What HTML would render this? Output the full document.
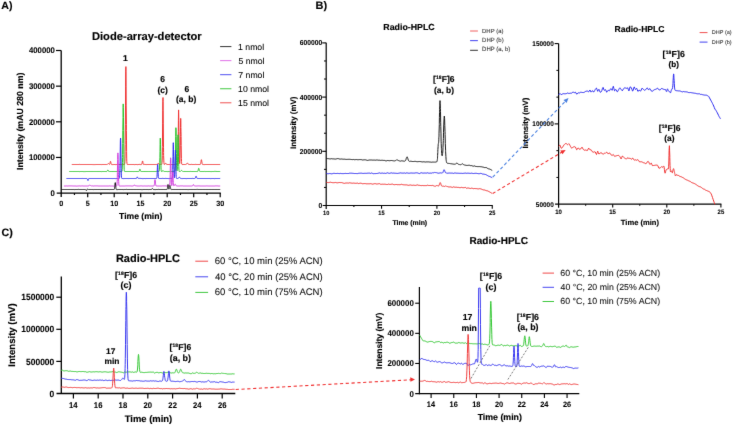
<!DOCTYPE html><html><head><meta charset="utf-8"><style>html,body{margin:0;padding:0;background:#fff;}svg{display:block;}</style></head><body>
<svg width="734" height="426" viewBox="0 0 734 426" font-family="'Liberation Sans', sans-serif" text-rendering="geometricPrecision">
<defs><filter id="bl" x="0" y="0" width="1" height="1" color-interpolation-filters="sRGB"><feConvolveMatrix order="3" kernelMatrix="0.00524 0.06192 0.00524 0.06192 0.73137 0.06192 0.00524 0.06192 0.00524" divisor="1" edgeMode="duplicate" preserveAlpha="true"/></filter></defs>
<g filter="url(#bl)">
<rect width="734" height="426" fill="#fff"/>
<text transform="translate(1.23,9.06) scale(1.0000,1)" font-size="10.612" font-weight="bold" fill="#000" stroke="#000" stroke-width="0.150">A)</text>
<text transform="translate(315.58,9.08) scale(1.0000,1)" font-size="10.957" font-weight="bold" fill="#000" stroke="#000" stroke-width="0.150">B)</text>
<text transform="translate(1.52,236.30) scale(1.0000,1)" font-size="10.722" font-weight="bold" fill="#000" stroke="#000" stroke-width="0.150">C)</text>
<text transform="translate(91.97,39.65) scale(1.0000,1)" font-size="11.159" font-weight="bold" fill="#000" stroke="#000" stroke-width="0.150">Diode-array-detector</text>
<line x1="61.20" y1="50.40" x2="61.20" y2="197.10" stroke="#000" stroke-width="1.3" />
<line x1="56.70" y1="193.10" x2="220.80" y2="193.10" stroke="#000" stroke-width="1.3" />
<line x1="56.00" y1="157.45" x2="61.20" y2="157.45" stroke="#000" stroke-width="1.2" />
<line x1="56.00" y1="121.80" x2="61.20" y2="121.80" stroke="#000" stroke-width="1.2" />
<line x1="56.00" y1="86.15" x2="61.20" y2="86.15" stroke="#000" stroke-width="1.2" />
<line x1="56.00" y1="50.50" x2="61.20" y2="50.50" stroke="#000" stroke-width="1.2" />
<text transform="translate(50.59,195.95) scale(0.9400,1)" font-size="8.266" font-weight="bold" fill="#000" stroke="#000" stroke-width="0.080">0</text>
<text transform="translate(28.99,160.30) scale(0.9400,1)" font-size="8.266" font-weight="bold" fill="#000" stroke="#000" stroke-width="0.080">100000</text>
<text transform="translate(28.99,124.65) scale(0.9400,1)" font-size="8.266" font-weight="bold" fill="#000" stroke="#000" stroke-width="0.080">200000</text>
<text transform="translate(28.99,89.00) scale(0.9400,1)" font-size="8.266" font-weight="bold" fill="#000" stroke="#000" stroke-width="0.080">300000</text>
<text transform="translate(28.99,53.35) scale(0.9400,1)" font-size="8.266" font-weight="bold" fill="#000" stroke="#000" stroke-width="0.080">400000</text>
<line x1="74.45" y1="193.10" x2="74.45" y2="195.00" stroke="#000" stroke-width="1.2" />
<line x1="87.70" y1="193.10" x2="87.70" y2="197.20" stroke="#000" stroke-width="1.2" />
<line x1="100.95" y1="193.10" x2="100.95" y2="195.00" stroke="#000" stroke-width="1.2" />
<line x1="114.20" y1="193.10" x2="114.20" y2="197.20" stroke="#000" stroke-width="1.2" />
<line x1="127.45" y1="193.10" x2="127.45" y2="195.00" stroke="#000" stroke-width="1.2" />
<line x1="140.70" y1="193.10" x2="140.70" y2="197.20" stroke="#000" stroke-width="1.2" />
<line x1="153.95" y1="193.10" x2="153.95" y2="195.00" stroke="#000" stroke-width="1.2" />
<line x1="167.20" y1="193.10" x2="167.20" y2="197.20" stroke="#000" stroke-width="1.2" />
<line x1="180.45" y1="193.10" x2="180.45" y2="195.00" stroke="#000" stroke-width="1.2" />
<line x1="193.70" y1="193.10" x2="193.70" y2="197.20" stroke="#000" stroke-width="1.2" />
<line x1="206.95" y1="193.10" x2="206.95" y2="195.00" stroke="#000" stroke-width="1.2" />
<line x1="220.20" y1="193.10" x2="220.20" y2="197.20" stroke="#000" stroke-width="1.2" />
<text transform="translate(59.23,206.18) scale(0.9400,1)" font-size="7.628" font-weight="bold" fill="#000" stroke="#000" stroke-width="0.080">0</text>
<text transform="translate(85.69,206.14) scale(0.9400,1)" font-size="7.628" font-weight="bold" fill="#000" stroke="#000" stroke-width="0.080">5</text>
<text transform="translate(110.15,206.18) scale(0.9400,1)" font-size="7.628" font-weight="bold" fill="#000" stroke="#000" stroke-width="0.080">10</text>
<text transform="translate(136.61,206.14) scale(0.9400,1)" font-size="7.628" font-weight="bold" fill="#000" stroke="#000" stroke-width="0.080">15</text>
<text transform="translate(163.26,206.18) scale(0.9400,1)" font-size="7.628" font-weight="bold" fill="#000" stroke="#000" stroke-width="0.080">20</text>
<text transform="translate(189.72,206.18) scale(0.9400,1)" font-size="7.628" font-weight="bold" fill="#000" stroke="#000" stroke-width="0.080">25</text>
<text transform="translate(216.29,206.18) scale(0.9400,1)" font-size="7.628" font-weight="bold" fill="#000" stroke="#000" stroke-width="0.080">30</text>
<text transform="translate(119.06,219.33) scale(1.0000,1)" font-size="8.594" font-weight="bold" fill="#000" stroke="#000" stroke-width="0.150">Time (min)</text>
<text transform="translate(22.98,170.06) rotate(-90) scale(1.0000,1)" font-size="8.781" font-weight="bold" fill="#000" stroke="#000" stroke-width="0.150">Intensity (mAU 280 nm)</text>
<polyline points="71.8,164.5 72.4,164.5 73.0,164.5 73.6,164.5 74.2,164.5 74.8,164.5 75.4,164.5 76.0,164.5 76.6,164.5 77.2,164.5 77.8,164.5 78.4,164.5 79.0,164.5 79.6,164.4 80.2,164.5 80.8,164.5 81.4,164.5 82.0,164.5 82.6,164.5 83.2,164.5 83.8,164.5 84.4,164.5 85.0,164.5 85.6,164.5 86.2,164.5 86.8,164.5 87.4,164.5 88.0,164.5 88.6,164.5 89.2,164.5 89.8,164.5 90.4,164.5 91.0,164.5 91.6,164.5 92.2,164.5 92.8,164.6 93.4,164.6 94.0,164.6 94.6,164.6 95.2,164.6 95.8,164.5 96.4,164.5 97.0,164.5 97.6,164.5 98.2,164.5 98.8,164.5 99.4,164.5 100.0,164.5 100.6,164.5 101.2,164.5 101.8,164.6 102.4,164.5 103.0,164.5 103.6,164.5 104.2,164.5 104.8,164.5 105.4,164.5 106.0,164.5 106.2,164.5 106.4,164.5 106.6,164.5 106.6,164.5 106.8,164.5 107.0,164.5 107.1,164.5 107.2,164.4 107.3,164.4 107.5,164.3 107.7,164.1 107.8,163.9 107.8,163.9 108.0,163.7 108.2,163.5 108.4,163.5 108.4,163.5 108.5,163.5 108.7,163.7 108.9,163.9 109.0,164.0 109.0,164.0 109.1,164.1 109.1,164.2 109.3,164.3 109.4,164.4 109.4,164.4 109.5,164.4 109.6,164.3 109.6,164.3 109.6,164.3 109.7,164.1 109.8,164.0 109.9,163.7 110.0,163.4 110.0,163.2 110.1,162.6 110.1,162.5 110.2,162.2 110.2,162.0 110.3,161.7 110.4,161.5 110.5,161.3 110.6,161.5 110.7,162.0 110.8,162.3 110.9,162.6 111.0,163.2 111.1,163.7 111.2,164.1 111.4,164.3 111.4,164.4 111.5,164.5 111.6,164.5 111.7,164.6 111.9,164.6 112.0,164.6 112.6,164.6 113.2,164.6 113.8,164.5 114.4,164.5 115.0,164.5 115.6,164.6 116.2,164.6 116.8,164.5 117.4,164.5 118.0,164.5 118.6,164.5 119.2,164.5 119.8,164.5 120.4,164.5 121.0,164.5 121.6,164.5 122.2,164.5 122.8,164.5 123.4,164.5 124.0,164.5 124.4,164.4 124.5,164.4 124.6,164.2 124.6,164.1 124.7,163.4 124.9,161.7 125.0,158.1 125.1,151.3 125.2,144.4 125.2,140.1 125.4,124.2 125.5,105.1 125.6,86.1 125.7,71.9 125.8,67.9 125.9,66.6 126.0,71.9 126.1,86.1 126.2,105.1 126.4,124.2 126.4,130.6 126.5,140.1 126.6,151.3 126.7,158.1 126.8,161.7 127.0,163.4 127.0,163.7 127.1,164.1 127.2,164.4 127.6,164.5 128.2,164.5 128.8,164.5 129.4,164.5 130.0,164.5 130.6,164.5 131.2,164.5 131.8,164.5 132.4,164.5 133.0,164.5 133.6,164.5 134.2,164.6 134.8,164.6 135.4,164.5 136.0,164.5 136.6,164.5 137.2,164.6 137.8,164.6 138.4,164.5 139.0,164.5 139.6,164.4 140.2,164.5 140.8,164.6 141.1,164.6 141.2,164.6 141.3,164.5 141.4,164.5 141.4,164.5 141.6,164.4 141.7,164.3 141.8,164.0 141.9,163.6 142.0,163.3 142.1,163.0 142.2,162.4 142.3,161.7 142.4,161.1 142.6,161.0 142.6,161.0 142.7,161.1 142.8,161.7 142.9,162.4 143.0,163.1 143.2,163.6 143.2,163.7 143.3,164.0 143.4,164.3 143.5,164.4 143.7,164.5 143.8,164.5 143.8,164.5 143.9,164.5 144.4,164.4 145.0,164.5 145.6,164.5 146.2,164.6 146.8,164.5 147.4,164.5 148.0,164.5 148.6,164.5 149.2,164.5 149.8,164.5 150.4,164.5 151.0,164.5 151.6,164.5 152.2,164.5 152.8,164.5 153.4,164.5 154.0,164.5 154.6,164.5 155.2,164.5 155.8,164.5 156.4,164.5 156.5,164.5 156.6,164.5 156.8,164.5 156.9,164.4 157.0,164.4 157.1,164.4 157.2,164.4 157.3,164.3 157.5,164.1 157.6,163.9 157.6,163.9 157.8,163.7 157.9,163.5 158.0,163.3 158.2,163.3 158.2,163.3 158.3,163.3 158.5,163.5 158.6,163.8 158.8,164.1 158.8,164.1 158.9,164.3 159.0,164.4 159.2,164.5 159.3,164.5 159.4,164.5 159.5,164.5 159.6,164.5 159.7,164.5 160.0,164.5 160.6,164.4 161.2,164.5 161.6,164.4 161.7,164.4 161.8,164.2 161.8,164.2 161.9,163.7 162.0,162.6 162.2,160.1 162.3,155.4 162.4,147.8 162.4,146.6 162.5,137.0 162.6,123.9 162.7,110.9 162.8,101.2 163.0,97.5 163.0,98.0 163.1,101.2 163.2,110.9 163.3,123.9 163.4,137.0 163.5,147.8 163.6,152.6 163.6,155.4 163.8,160.1 163.9,162.6 163.9,163.0 164.0,163.7 164.1,164.1 164.1,164.2 164.2,164.4 164.2,164.4 164.2,164.4 164.3,164.5 164.5,164.5 164.6,164.4 164.8,164.3 164.8,164.3 164.9,164.2 165.0,163.9 165.2,163.6 165.3,163.4 165.4,163.3 165.5,163.2 165.6,163.1 165.8,163.1 165.9,163.3 166.0,163.5 166.0,163.6 166.2,163.9 166.3,164.1 166.5,164.3 166.6,164.3 166.6,164.3 166.7,164.4 166.9,164.4 167.0,164.4 167.2,164.4 167.2,164.5 167.8,164.5 168.4,164.5 169.0,164.5 169.6,164.5 170.2,164.5 170.8,164.5 171.4,164.5 172.0,164.5 172.6,164.5 173.2,164.5 173.8,164.5 174.4,164.5 175.0,164.5 175.6,164.4 176.2,164.5 176.8,164.5 177.2,164.6 177.3,164.5 177.4,164.5 177.4,164.4 177.6,164.0 177.7,163.0 177.8,161.0 177.9,157.2 178.0,152.3 178.0,151.0 178.1,142.2 178.3,131.5 178.4,120.8 178.5,112.9 178.6,109.9 178.6,109.9 178.7,112.9 178.8,120.8 178.9,131.4 179.1,142.1 179.2,150.9 179.2,152.9 179.3,157.1 179.3,159.2 179.4,160.9 179.5,162.0 179.5,162.9 179.6,163.3 179.6,163.6 179.7,163.6 179.7,163.4 179.8,163.1 179.8,163.0 179.9,162.4 179.9,161.4 180.0,158.3 180.1,153.0 180.3,145.6 180.4,136.6 180.4,134.2 180.5,127.6 180.6,120.9 180.7,118.4 180.8,120.9 180.9,127.6 181.0,131.8 181.1,136.6 181.2,145.6 181.3,153.0 181.4,158.3 181.5,161.5 181.6,162.8 181.6,163.2 181.7,164.0 181.9,164.3 182.0,164.4 182.2,164.5 182.8,164.5 183.4,164.5 184.0,164.5 184.6,164.5 185.2,164.5 185.2,164.5 185.4,164.5 185.6,164.5 185.8,164.5 185.8,164.5 185.9,164.4 186.1,164.4 186.3,164.3 186.4,164.2 186.5,164.1 186.6,163.9 186.8,163.6 187.0,163.3 187.0,163.3 187.2,163.1 187.3,163.0 187.5,163.1 187.6,163.2 187.7,163.3 187.9,163.6 188.0,163.9 188.2,164.1 188.2,164.1 188.4,164.3 188.6,164.4 188.8,164.5 188.8,164.5 188.9,164.5 189.1,164.5 189.3,164.5 189.4,164.5 190.0,164.5 190.6,164.5 191.2,164.4 191.8,164.4 192.4,164.5 193.0,164.5 193.6,164.5 194.2,164.5 194.8,164.5 195.4,164.4 196.0,164.4 196.6,164.5 197.2,164.5 197.8,164.5 198.4,164.5 199.0,164.5 199.6,164.5 199.7,164.5 199.8,164.5 200.0,164.5 200.1,164.5 200.2,164.4 200.3,164.4 200.4,164.2 200.5,163.8 200.7,163.3 200.8,162.6 200.8,162.5 201.0,161.6 201.1,160.7 201.2,160.0 201.4,159.7 201.4,159.7 201.5,160.0 201.7,160.7 201.8,161.6 202.0,162.6 202.0,162.9 202.1,163.3 202.2,163.9 202.4,164.2 202.5,164.4 202.6,164.5 202.7,164.5 202.8,164.5 202.9,164.5 203.2,164.5 203.8,164.6 204.4,164.6 205.0,164.5 205.6,164.5 206.2,164.5 206.8,164.5 207.4,164.5 208.0,164.5 208.6,164.5 209.2,164.5 209.8,164.5 210.4,164.5 211.0,164.5 211.6,164.5 212.2,164.5 212.8,164.5 213.4,164.5 214.0,164.5 214.6,164.5 215.2,164.5 215.8,164.5 216.4,164.5 217.0,164.5 217.6,164.5 218.2,164.5 218.8,164.5 219.4,164.5 220.0,164.5 220.2,164.5" fill="none" stroke="#f03434" stroke-width="1.0" stroke-linejoin="round" />
<polyline points="69.2,171.5 69.7,171.5 70.3,171.5 70.9,171.5 71.5,171.5 72.1,171.5 72.7,171.5 73.4,171.5 74.0,171.5 74.6,171.5 75.2,171.5 75.8,171.5 76.4,171.5 77.0,171.5 77.5,171.5 78.1,171.5 78.7,171.5 79.3,171.6 79.9,171.5 80.5,171.5 81.2,171.5 81.8,171.5 82.4,171.5 83.0,171.5 83.6,171.6 84.2,171.6 84.8,171.6 85.3,171.6 85.9,171.5 86.5,171.5 87.1,171.5 87.7,171.5 88.3,171.5 88.9,171.5 89.6,171.5 90.2,171.5 90.8,171.5 91.4,171.5 92.0,171.5 92.6,171.5 93.1,171.5 93.7,171.5 94.3,171.5 94.9,171.5 95.5,171.5 96.1,171.5 96.7,171.5 97.4,171.5 98.0,171.5 98.6,171.5 99.2,171.5 99.8,171.5 100.4,171.5 101.0,171.5 101.5,171.6 102.1,171.5 102.7,171.5 103.3,171.5 103.9,171.5 104.5,171.5 105.2,171.5 105.8,171.5 106.1,171.5 106.3,171.5 106.4,171.5 106.4,171.5 106.6,171.5 106.7,171.4 106.9,171.4 107.0,171.3 107.0,171.3 107.1,171.1 107.3,170.9 107.4,170.6 107.6,170.4 107.6,170.4 107.7,170.2 107.8,170.1 108.0,170.2 108.1,170.4 108.2,170.4 108.3,170.7 108.4,170.9 108.5,171.2 108.7,171.3 108.8,171.4 108.8,171.4 109.0,171.5 109.1,171.5 109.3,171.5 109.3,171.5 109.4,171.5 109.9,171.5 110.5,171.5 111.1,171.5 111.7,171.5 112.3,171.5 113.0,171.5 113.6,171.5 114.2,171.5 114.8,171.5 115.4,171.5 116.0,171.5 116.6,171.5 117.1,171.5 117.7,171.5 118.3,171.5 118.9,171.5 119.5,171.5 120.1,171.5 120.7,171.5 121.4,171.5 121.7,171.5 121.8,171.4 122.0,171.3 122.0,171.3 122.1,170.8 122.2,169.6 122.3,167.1 122.5,162.4 122.6,157.6 122.6,154.7 122.7,143.7 122.8,130.5 123.0,117.4 123.1,107.5 123.2,104.8 123.2,103.9 123.3,107.5 123.5,117.4 123.6,130.5 123.7,143.6 123.8,148.0 123.8,154.6 124.0,162.3 124.1,167.0 124.2,169.5 124.3,170.7 124.4,170.9 124.4,171.2 124.6,171.4 124.9,171.5 125.5,171.5 126.1,171.5 126.7,171.5 127.3,171.5 127.9,171.5 128.5,171.5 129.2,171.5 129.8,171.5 130.4,171.5 131.0,171.5 131.6,171.5 132.2,171.5 132.8,171.5 133.3,171.5 133.9,171.6 134.5,171.5 135.1,171.5 135.7,171.5 136.3,171.5 137.0,171.5 137.6,171.5 138.2,171.5 138.4,171.5 138.5,171.5 138.7,171.5 138.8,171.5 138.8,171.5 138.9,171.5 139.0,171.4 139.2,171.2 139.3,171.0 139.4,170.8 139.4,170.6 139.5,170.1 139.7,169.7 139.8,169.3 139.9,169.2 140.0,169.2 140.0,169.3 140.2,169.7 140.3,170.1 140.4,170.5 140.5,170.9 140.6,171.0 140.6,171.2 140.8,171.3 140.9,171.4 141.0,171.5 141.1,171.5 141.1,171.5 141.3,171.5 141.7,171.5 142.3,171.5 142.9,171.5 143.5,171.5 144.1,171.5 144.8,171.5 145.4,171.5 146.0,171.5 146.6,171.5 147.2,171.5 147.8,171.5 148.4,171.5 148.9,171.5 149.5,171.5 150.1,171.5 150.7,171.5 151.3,171.5 151.9,171.5 152.5,171.5 153.2,171.5 153.8,171.5 154.4,171.5 155.0,171.5 155.6,171.5 156.2,171.4 156.7,171.4 157.3,171.5 157.9,171.5 158.5,171.4 158.9,171.4 159.0,171.4 159.1,171.3 159.2,171.3 159.3,171.1 159.4,170.5 159.5,169.3 159.6,167.0 159.7,163.2 159.7,162.6 159.9,157.8 160.0,151.3 160.1,144.8 160.2,140.0 160.3,138.1 160.3,138.4 160.4,140.0 160.5,144.8 160.7,151.3 160.8,157.9 160.9,163.2 161.0,165.6 161.0,167.1 161.1,169.4 161.2,170.6 161.3,170.9 161.3,171.2 161.4,171.4 161.5,171.5 161.5,171.5 161.6,171.5 161.6,171.5 161.7,171.5 161.8,171.5 162.0,171.5 162.1,171.4 162.2,171.4 162.3,171.3 162.4,171.1 162.5,170.9 162.7,170.8 162.8,170.7 162.8,170.6 163.0,170.6 163.1,170.6 163.2,170.7 163.4,170.9 163.4,170.9 163.5,171.1 163.7,171.2 163.8,171.3 163.9,171.4 164.0,171.4 164.1,171.4 164.2,171.5 164.4,171.5 164.5,171.5 164.6,171.5 165.1,171.5 165.7,171.5 166.3,171.5 166.9,171.5 167.5,171.6 168.1,171.6 168.8,171.5 169.4,171.5 170.0,171.5 170.6,171.5 171.2,171.5 171.8,171.5 172.4,171.5 172.9,171.5 173.5,171.5 174.1,171.5 174.6,171.5 174.7,171.4 174.7,171.4 174.8,171.3 174.9,171.0 175.0,170.2 175.1,168.6 175.3,165.6 175.3,161.7 175.4,160.6 175.5,153.5 175.6,145.0 175.7,136.4 175.8,130.1 175.9,127.7 175.9,127.8 176.1,130.1 176.2,136.5 176.3,145.0 176.4,153.5 176.5,160.6 176.6,162.2 176.6,165.6 176.7,167.2 176.7,168.6 176.8,169.5 176.9,170.2 176.9,170.6 177.0,170.8 177.0,170.8 177.1,170.7 177.1,170.4 177.2,170.4 177.2,169.8 177.3,169.1 177.4,166.5 177.5,162.4 177.6,156.4 177.7,149.3 177.8,147.3 177.8,142.1 177.9,136.8 178.1,134.8 178.2,136.8 178.3,142.1 178.4,145.4 178.4,149.2 178.5,156.4 178.6,162.3 178.8,166.5 178.9,169.1 179.0,170.2 179.0,170.5 179.1,171.1 179.2,171.4 179.3,171.5 179.4,171.5 179.6,171.5 179.6,171.5 179.7,171.5 179.9,171.5 180.1,171.5 180.2,171.5 180.3,171.4 180.4,171.4 180.6,171.2 180.7,171.1 180.8,171.1 181.0,170.9 181.2,170.6 181.3,170.5 181.3,170.5 181.5,170.4 181.7,170.5 181.9,170.6 181.9,170.7 182.0,170.8 182.2,171.0 182.4,171.2 182.5,171.3 182.6,171.3 182.7,171.4 182.9,171.5 183.1,171.5 183.1,171.5 183.3,171.5 183.5,171.5 183.7,171.5 184.3,171.5 185.0,171.4 185.6,171.5 186.2,171.5 186.8,171.5 187.4,171.5 188.0,171.5 188.5,171.5 189.1,171.5 189.7,171.5 190.3,171.4 190.9,171.5 191.5,171.5 192.1,171.5 192.8,171.5 193.4,171.5 194.0,171.5 194.6,171.5 195.2,171.5 195.8,171.5 196.4,171.5 196.9,171.6 197.0,171.6 197.2,171.6 197.3,171.6 197.5,171.5 197.5,171.5 197.6,171.5 197.7,171.4 197.9,171.1 198.0,170.8 198.1,170.3 198.2,170.2 198.3,169.6 198.5,169.0 198.6,168.5 198.7,168.3 198.7,168.3 198.9,168.4 199.0,168.9 199.2,169.5 199.3,170.1 199.3,170.3 199.4,170.7 199.6,171.0 199.7,171.3 199.9,171.4 199.9,171.4 200.0,171.5 200.1,171.5 200.3,171.5 200.6,171.5 201.2,171.5 201.8,171.5 202.4,171.5 203.0,171.5 203.6,171.5 204.2,171.4 204.7,171.5 205.3,171.5 205.9,171.6 206.5,171.5 207.1,171.5 207.7,171.5 208.4,171.5 209.0,171.5 209.6,171.5 210.2,171.5 210.8,171.6 211.4,171.6 212.0,171.5 212.5,171.5 213.1,171.5 213.7,171.5 214.3,171.4 214.9,171.4 215.5,171.4 216.1,171.4 216.8,171.5 217.4,171.5 218.0,171.5 218.6,171.5 219.2,171.5 219.8,171.5 220.2,171.5" fill="none" stroke="#2cc42c" stroke-width="1.0" stroke-linejoin="round" />
<polyline points="66.5,178.5 67.1,178.5 67.7,178.5 68.3,178.5 68.9,178.5 69.5,178.5 70.1,178.5 70.7,178.5 71.3,178.5 71.9,178.5 72.5,178.5 73.1,178.5 73.7,178.5 74.3,178.5 74.9,178.5 75.5,178.5 76.1,178.5 76.7,178.5 77.3,178.5 77.9,178.5 78.5,178.5 79.1,178.5 79.7,178.5 80.3,178.5 80.9,178.5 81.5,178.5 82.1,178.4 82.7,178.5 83.3,178.5 83.9,178.5 84.5,178.5 85.1,178.5 85.7,178.5 86.3,178.5 86.7,178.5 86.8,178.5 86.9,178.5 86.9,178.5 87.0,178.5 87.1,178.6 87.2,178.7 87.3,178.8 87.4,179.0 87.5,179.2 87.5,179.4 87.6,179.8 87.8,180.2 87.9,180.5 88.0,180.6 88.1,180.5 88.1,180.4 88.2,180.2 88.3,179.8 88.4,179.4 88.5,179.0 88.6,178.8 88.7,178.6 88.7,178.6 88.8,178.5 88.9,178.5 89.0,178.5 89.1,178.5 89.2,178.5 89.3,178.5 89.9,178.5 90.5,178.5 91.1,178.5 91.7,178.5 92.3,178.5 92.9,178.5 93.5,178.5 94.1,178.5 94.7,178.5 95.3,178.5 95.9,178.5 96.5,178.5 97.1,178.5 97.7,178.5 98.3,178.5 98.9,178.5 99.5,178.5 100.1,178.5 100.7,178.5 101.3,178.5 101.9,178.5 102.5,178.5 103.1,178.5 103.7,178.5 104.3,178.5 104.9,178.5 105.5,178.5 106.1,178.5 106.7,178.5 107.3,178.5 107.9,178.5 108.5,178.5 109.1,178.5 109.7,178.5 110.3,178.5 110.9,178.5 111.5,178.5 112.1,178.6 112.7,178.5 113.3,178.5 113.9,178.5 114.5,178.5 115.1,178.5 115.7,178.6 116.3,178.5 116.9,178.5 117.5,178.5 118.1,178.5 118.7,178.5 119.1,178.5 119.2,178.5 119.3,178.4 119.3,178.3 119.4,178.0 119.6,177.3 119.7,175.8 119.8,173.0 119.9,170.2 119.9,168.4 120.1,161.8 120.2,153.9 120.3,146.1 120.4,140.2 120.5,138.6 120.6,138.0 120.7,140.2 120.8,146.1 120.9,154.0 121.1,161.9 121.1,164.5 121.2,168.4 121.3,173.1 121.4,175.9 121.5,177.4 121.7,178.1 121.7,178.2 121.8,178.4 121.9,178.5 122.3,178.5 122.9,178.5 123.5,178.6 124.1,178.6 124.7,178.5 125.3,178.5 125.9,178.5 126.5,178.5 127.1,178.5 127.7,178.5 128.3,178.5 128.9,178.6 129.5,178.5 130.1,178.5 130.7,178.5 131.3,178.5 131.9,178.5 132.5,178.5 133.1,178.5 133.7,178.5 134.3,178.5 134.9,178.5 135.5,178.5 135.8,178.5 135.9,178.5 136.0,178.5 136.1,178.5 136.1,178.5 136.3,178.5 136.4,178.4 136.5,178.3 136.6,178.1 136.7,178.0 136.8,177.8 136.9,177.5 137.0,177.2 137.1,177.0 137.3,176.9 137.3,176.9 137.4,177.0 137.5,177.2 137.6,177.5 137.7,177.8 137.9,178.1 137.9,178.1 138.0,178.2 138.1,178.3 138.2,178.4 138.4,178.4 138.5,178.4 138.5,178.4 138.6,178.4 139.1,178.4 139.7,178.4 140.3,178.4 140.9,178.5 141.5,178.5 142.1,178.6 142.7,178.6 143.3,178.6 143.9,178.5 144.5,178.5 145.1,178.5 145.7,178.6 146.3,178.5 146.9,178.5 147.5,178.5 148.1,178.5 148.7,178.5 149.3,178.5 149.9,178.5 150.5,178.5 151.1,178.5 151.7,178.5 152.3,178.5 152.9,178.5 153.5,178.5 154.1,178.5 154.7,178.5 155.3,178.5 155.9,178.5 156.3,178.5 156.4,178.5 156.5,178.5 156.5,178.5 156.6,178.3 156.7,178.1 156.9,177.6 157.0,176.6 157.1,175.0 157.1,174.7 157.2,172.7 157.3,169.9 157.4,167.2 157.5,165.1 157.7,164.4 157.7,164.5 157.8,165.1 157.9,167.2 158.0,169.9 158.1,172.7 158.2,175.0 158.3,176.0 158.3,176.6 158.5,177.6 158.6,178.1 158.7,178.3 158.8,178.4 158.9,178.5 158.9,178.5 159.5,178.5 160.1,178.5 160.7,178.5 161.3,178.5 161.9,178.5 162.5,178.4 163.1,178.4 163.7,178.5 164.3,178.5 164.9,178.5 165.5,178.4 166.1,178.4 166.7,178.5 167.3,178.5 167.9,178.5 168.5,178.6 169.1,178.6 169.7,178.5 170.3,178.5 170.9,178.5 171.5,178.5 171.9,178.5 172.0,178.5 172.1,178.4 172.1,178.4 172.3,178.1 172.4,177.5 172.5,176.2 172.6,173.7 172.7,170.4 172.7,169.6 172.8,163.8 173.0,156.8 173.1,149.8 173.2,144.6 173.3,142.7 173.3,142.7 173.4,144.6 173.5,149.8 173.6,156.8 173.8,163.8 173.9,169.6 173.9,170.9 174.0,173.7 174.0,175.0 174.1,176.1 174.2,176.9 174.2,177.4 174.3,177.7 174.3,177.9 174.4,177.9 174.4,177.8 174.5,177.6 174.5,177.6 174.6,177.2 174.6,176.6 174.7,174.7 174.8,171.4 175.0,166.8 175.1,161.2 175.1,159.8 175.2,155.7 175.3,151.6 175.4,150.1 175.5,151.6 175.6,155.7 175.7,158.3 175.8,161.2 175.9,166.8 176.0,171.4 176.1,174.7 176.2,176.7 176.3,177.5 176.3,177.7 176.4,178.2 176.6,178.4 176.7,178.5 176.9,178.5 177.3,178.5 177.4,178.5 177.5,178.5 177.6,178.5 177.8,178.5 178.0,178.5 178.1,178.4 178.2,178.4 178.3,178.3 178.5,178.2 178.7,177.9 178.7,177.9 178.9,177.6 179.0,177.4 179.2,177.2 179.3,177.1 179.4,177.1 179.6,177.2 179.7,177.4 179.9,177.6 179.9,177.7 180.1,177.9 180.3,178.2 180.4,178.3 180.5,178.3 180.6,178.4 180.8,178.5 181.0,178.5 181.1,178.5 181.2,178.5 181.3,178.5 181.7,178.6 182.3,178.6 182.9,178.5 183.5,178.5 184.1,178.5 184.7,178.5 185.3,178.5 185.9,178.6 186.5,178.6 187.1,178.5 187.7,178.5 188.3,178.5 188.9,178.5 189.5,178.5 190.1,178.5 190.7,178.5 191.3,178.5 191.9,178.5 192.5,178.4 193.1,178.5 193.7,178.5 194.3,178.5 194.4,178.5 194.5,178.5 194.7,178.5 194.8,178.5 194.9,178.5 195.0,178.5 195.1,178.4 195.2,178.2 195.4,178.0 195.5,177.6 195.5,177.6 195.7,177.1 195.8,176.7 195.9,176.3 196.1,176.2 196.1,176.2 196.2,176.3 196.4,176.7 196.5,177.1 196.7,177.6 196.7,177.7 196.8,177.9 196.9,178.2 197.1,178.4 197.2,178.4 197.3,178.5 197.4,178.5 197.5,178.5 197.6,178.5 197.9,178.5 198.5,178.5 199.1,178.5 199.7,178.5 200.3,178.5 200.9,178.5 201.5,178.5 202.1,178.5 202.7,178.5 203.3,178.5 203.9,178.5 204.5,178.5 205.1,178.5 205.7,178.5 206.3,178.5 206.9,178.5 207.5,178.5 208.1,178.5 208.7,178.5 209.3,178.5 209.9,178.5 210.5,178.6 211.1,178.6 211.7,178.5 212.3,178.5 212.9,178.5 213.5,178.5 214.1,178.6 214.7,178.6 215.3,178.5 215.9,178.5 216.5,178.5 217.1,178.5 217.7,178.5 218.3,178.5 218.9,178.5 219.5,178.5 220.1,178.4 220.2,178.4" fill="none" stroke="#2e2ef0" stroke-width="1.0" stroke-linejoin="round" />
<polyline points="63.9,186.0 64.4,186.0 65.0,186.0 65.6,186.0 66.2,186.0 66.8,185.9 67.4,186.0 68.1,186.0 68.7,185.9 69.3,185.9 69.9,185.9 70.5,185.9 71.1,185.9 71.7,185.9 72.2,185.9 72.8,186.0 73.4,186.0 74.0,185.9 74.6,186.0 75.2,186.0 75.9,186.0 76.5,186.1 77.1,186.1 77.7,186.0 78.3,186.0 78.9,185.9 79.5,185.9 80.0,186.0 80.6,186.0 81.2,186.0 81.8,185.9 82.4,185.9 83.0,186.0 83.6,186.0 84.3,186.0 84.9,186.0 85.5,186.0 86.1,186.0 86.7,186.0 87.3,186.0 87.7,186.0 87.8,186.0 87.9,186.0 88.1,186.0 88.2,186.0 88.4,186.0 88.4,186.0 88.6,185.9 88.8,185.9 88.9,185.7 89.0,185.6 89.1,185.6 89.3,185.3 89.5,185.1 89.6,185.0 89.6,185.0 89.8,184.9 90.0,185.0 90.2,185.1 90.2,185.2 90.3,185.3 90.5,185.5 90.7,185.7 90.8,185.8 90.9,185.8 91.1,185.9 91.2,185.9 91.4,185.9 91.4,185.9 91.6,185.9 91.8,185.9 91.9,185.9 92.1,185.9 92.7,185.9 93.3,186.0 93.9,186.0 94.5,185.9 95.1,185.9 95.7,185.9 96.2,185.9 96.8,185.9 97.4,185.9 98.0,185.9 98.6,186.0 99.2,186.0 99.9,186.0 100.5,186.0 101.1,186.0 101.7,186.0 102.3,186.0 102.9,186.0 103.5,186.0 104.0,185.9 104.6,186.0 105.2,186.0 105.8,186.0 106.4,186.0 107.0,186.0 107.7,186.0 108.3,186.0 108.9,186.0 109.5,185.9 110.1,186.0 110.7,186.0 111.3,186.0 111.8,186.0 112.4,186.0 113.0,186.1 113.6,186.1 114.2,186.0 114.8,186.0 115.4,186.0 116.1,186.0 116.4,186.0 116.5,185.9 116.7,185.9 116.7,185.8 116.8,185.6 116.9,185.0 117.0,183.8 117.2,181.5 117.3,179.2 117.3,177.7 117.4,172.4 117.5,165.9 117.7,159.5 117.8,154.7 117.9,153.3 117.9,152.9 118.0,154.7 118.2,159.5 118.3,165.9 118.4,172.3 118.5,174.4 118.5,177.7 118.7,181.4 118.8,183.8 118.9,185.0 119.0,185.6 119.1,185.7 119.1,185.8 119.3,185.9 119.6,186.0 120.2,186.0 120.8,186.1 121.4,186.0 122.0,186.0 122.6,186.0 123.2,186.0 123.9,186.0 124.5,186.0 125.1,186.0 125.7,185.9 126.3,185.9 126.9,185.9 127.5,185.9 128.0,185.9 128.6,185.9 129.2,185.9 129.8,185.9 130.4,185.9 131.0,186.0 131.7,186.0 132.3,186.0 132.9,186.0 132.9,186.0 133.1,186.0 133.2,185.9 133.3,185.9 133.5,185.9 133.5,185.9 133.6,185.8 133.8,185.8 133.9,185.6 134.0,185.4 134.1,185.4 134.2,185.2 134.3,185.0 134.5,184.9 134.6,184.9 134.7,184.9 134.7,184.9 134.9,185.1 135.0,185.3 135.2,185.5 135.3,185.6 135.3,185.7 135.5,185.8 135.6,185.9 135.7,185.9 135.8,186.0 135.9,186.0 136.0,186.0 136.2,185.9 136.4,185.9 137.0,185.9 137.6,186.0 138.2,186.0 138.8,186.0 139.5,186.0 140.1,185.9 140.7,185.9 141.3,185.9 141.9,185.9 142.5,186.0 143.1,186.0 143.6,186.0 144.2,185.9 144.8,186.0 145.4,186.0 146.0,186.0 146.6,186.0 147.2,186.0 147.9,186.0 148.5,185.9 149.1,186.0 149.7,186.0 150.3,186.0 150.9,186.0 151.4,186.0 152.0,186.0 152.6,186.0 153.2,186.0 153.6,186.0 153.7,185.9 153.8,185.9 153.9,185.9 154.0,185.9 154.1,185.8 154.2,185.5 154.3,185.1 154.4,184.4 154.4,184.2 154.6,183.3 154.7,182.1 154.8,180.9 154.9,179.9 155.0,179.6 155.0,179.6 155.1,179.9 155.2,180.9 155.4,182.1 155.5,183.3 155.6,184.3 155.7,184.8 155.7,185.1 155.8,185.5 155.9,185.7 156.0,185.9 156.2,185.9 156.3,185.9 156.3,185.9 156.9,186.0 157.5,186.0 158.1,186.0 158.7,186.0 159.2,186.0 159.8,186.0 160.4,186.0 161.0,186.0 161.6,186.0 162.2,185.9 162.8,185.9 163.5,185.9 164.1,185.9 164.7,185.9 165.3,185.9 165.9,185.9 166.5,186.0 167.1,186.0 167.6,186.0 168.2,186.0 168.8,185.9 169.3,185.9 169.4,185.9 169.4,185.9 169.5,185.8 169.6,185.6 169.7,185.1 169.8,184.1 170.0,182.2 170.0,179.6 170.1,178.9 170.2,174.4 170.3,168.9 170.4,163.4 170.5,159.3 170.6,157.8 170.6,157.8 170.8,159.3 170.9,163.4 171.0,168.9 171.1,174.4 171.2,178.9 171.3,180.0 171.3,182.2 171.4,183.2 171.4,184.1 171.5,184.7 171.6,185.1 171.6,185.4 171.7,185.5 171.7,185.6 171.8,185.6 171.8,185.5 171.9,185.5 171.9,185.3 172.0,185.0 172.1,184.0 172.2,182.4 172.3,180.1 172.4,177.4 172.5,176.6 172.5,174.6 172.6,172.5 172.8,171.8 172.9,172.5 173.0,174.6 173.0,175.4 173.1,175.9 173.1,177.4 173.2,179.8 173.2,180.2 173.3,182.5 173.4,183.2 173.5,184.1 173.6,185.0 173.6,185.1 173.7,185.5 173.7,185.6 173.7,185.7 173.8,185.8 173.9,185.8 174.0,185.8 174.1,185.7 174.3,185.6 174.3,185.5 174.4,185.2 174.6,184.9 174.8,184.5 174.9,184.4 175.0,184.3 175.2,184.2 175.3,184.2 175.4,184.4 175.5,184.5 175.7,184.8 175.9,185.2 176.0,185.5 176.0,185.5 176.2,185.7 176.4,185.9 176.6,185.9 176.6,186.0 176.7,186.0 176.9,186.0 177.1,186.0 177.2,186.0 177.8,186.0 178.4,186.0 179.0,186.0 179.7,186.0 180.3,185.9 180.9,185.9 181.5,185.9 182.1,185.9 182.7,185.9 183.2,186.0 183.8,186.0 184.4,186.0 185.0,186.0 185.6,186.0 186.2,186.0 186.8,186.0 187.5,186.0 188.1,186.0 188.7,186.0 189.3,186.0 189.9,186.0 190.5,186.0 191.1,186.0 191.6,186.0 191.7,186.0 191.9,186.0 192.0,186.0 192.2,186.0 192.2,186.0 192.3,186.0 192.4,185.9 192.6,185.8 192.7,185.6 192.8,185.4 192.9,185.4 193.0,185.1 193.2,184.8 193.3,184.6 193.4,184.6 193.4,184.6 193.6,184.6 193.7,184.8 193.9,185.1 194.0,185.4 194.0,185.5 194.1,185.6 194.3,185.8 194.4,185.9 194.6,186.0 194.6,186.0 194.7,186.0 194.8,186.0 195.0,186.0 195.3,186.0 195.9,186.0 196.5,186.0 197.1,186.0 197.7,185.9 198.3,185.9 198.9,185.9 199.4,185.9 200.0,186.0 200.6,186.0 201.2,186.0 201.8,186.0 202.4,186.0 203.1,186.0 203.7,186.0 204.3,186.0 204.9,186.0 205.5,186.0 206.1,186.0 206.7,185.9 207.2,185.9 207.8,186.0 208.4,186.0 209.0,186.0 209.6,186.0 210.2,186.0 210.8,186.0 211.5,186.0 212.1,186.0 212.7,186.0 213.3,186.0 213.9,186.0 214.5,186.0 215.0,185.9 215.6,185.9 216.2,185.9 216.8,185.9 217.4,185.9 218.0,186.0 218.6,186.0 219.3,186.0 219.9,186.0 220.2,186.0" fill="none" stroke="#d23ede" stroke-width="1.0" stroke-linejoin="round" />
<polyline points="61.2,189.5 61.8,189.5 62.4,189.5 63.0,189.5 63.6,189.5 64.2,189.5 64.8,189.5 65.4,189.5 66.0,189.5 66.6,189.5 67.2,189.5 67.8,189.5 68.4,189.5 69.0,189.5 69.6,189.5 70.2,189.5 70.8,189.5 71.4,189.5 72.0,189.5 72.6,189.5 73.2,189.5 73.8,189.5 74.4,189.6 75.0,189.5 75.6,189.5 76.2,189.5 76.8,189.5 77.4,189.5 78.0,189.4 78.6,189.4 79.2,189.5 79.8,189.5 80.4,189.5 81.0,189.5 81.6,189.5 82.2,189.5 82.8,189.5 83.4,189.5 84.0,189.5 84.6,189.5 85.1,189.5 85.2,189.5 85.2,189.5 85.3,189.5 85.4,189.5 85.5,189.6 85.6,189.6 85.7,189.7 85.8,189.8 85.8,189.8 86.0,190.0 86.1,190.2 86.2,190.4 86.3,190.6 86.4,190.6 86.4,190.6 86.5,190.5 86.6,190.4 86.7,190.1 86.8,189.9 86.9,189.6 87.0,189.4 87.0,189.4 87.1,189.2 87.2,189.1 87.3,189.0 87.4,189.0 87.5,189.0 87.6,189.0 87.6,189.1 87.8,189.2 87.9,189.3 88.0,189.3 88.1,189.4 88.2,189.4 88.2,189.4 88.3,189.5 88.4,189.5 88.5,189.5 88.6,189.5 88.7,189.5 88.8,189.5 89.4,189.5 90.0,189.5 90.6,189.5 91.2,189.5 91.8,189.5 92.4,189.5 93.0,189.5 93.6,189.6 94.2,189.5 94.8,189.5 95.4,189.5 96.0,189.5 96.6,189.5 97.2,189.5 97.8,189.5 98.4,189.5 99.0,189.5 99.6,189.5 100.2,189.6 100.8,189.5 101.4,189.5 102.0,189.5 102.6,189.5 103.2,189.5 103.8,189.5 104.4,189.5 105.0,189.5 105.6,189.5 106.2,189.5 106.8,189.5 107.4,189.5 108.0,189.5 108.6,189.5 109.2,189.6 109.8,189.5 110.4,189.5 111.0,189.5 111.6,189.5 112.2,189.5 112.8,189.5 113.4,189.5 113.8,189.5 113.9,189.5 114.0,189.5 114.0,189.5 114.1,189.5 114.3,189.3 114.4,189.1 114.5,188.6 114.6,188.1 114.6,187.8 114.8,186.7 114.9,185.3 115.0,184.0 115.1,183.0 115.2,182.7 115.3,182.6 115.4,183.0 115.5,184.0 115.6,185.4 115.8,186.7 115.8,187.2 115.9,187.9 116.0,188.6 116.1,189.1 116.2,189.4 116.4,189.5 116.4,189.5 116.5,189.6 116.6,189.6 117.0,189.6 117.6,189.6 118.2,189.5 118.8,189.5 119.4,189.5 120.0,189.5 120.6,189.5 121.2,189.5 121.8,189.5 122.4,189.5 123.0,189.5 123.6,189.6 124.2,189.5 124.8,189.5 125.4,189.5 126.0,189.4 126.6,189.4 127.2,189.5 127.8,189.5 128.4,189.5 129.0,189.5 129.6,189.5 130.2,189.5 130.8,189.5 131.4,189.5 132.0,189.5 132.6,189.5 133.2,189.5 133.8,189.5 134.4,189.5 135.0,189.5 135.6,189.5 136.2,189.5 136.8,189.5 137.4,189.5 138.0,189.5 138.6,189.5 139.2,189.5 139.8,189.5 140.4,189.5 141.0,189.6 141.6,189.6 142.2,189.6 142.8,189.6 143.4,189.5 144.0,189.5 144.6,189.5 145.2,189.5 145.8,189.5 146.4,189.5 147.0,189.5 147.6,189.5 148.2,189.6 148.8,189.5 149.4,189.5 150.0,189.5 150.6,189.5 151.0,189.5 151.1,189.5 151.2,189.5 151.2,189.5 151.3,189.5 151.4,189.5 151.6,189.4 151.7,189.3 151.8,189.2 151.8,189.2 151.9,189.1 152.0,188.8 152.1,188.6 152.2,188.5 152.4,188.4 152.4,188.4 152.5,188.5 152.6,188.6 152.7,188.8 152.8,189.1 152.9,189.2 153.0,189.3 153.0,189.3 153.2,189.4 153.3,189.5 153.4,189.5 153.5,189.5 153.6,189.5 153.6,189.5 154.2,189.5 154.8,189.6 155.4,189.6 156.0,189.5 156.6,189.5 157.2,189.5 157.8,189.5 158.4,189.4 159.0,189.4 159.6,189.5 160.2,189.5 160.8,189.5 161.4,189.5 162.0,189.5 162.6,189.5 163.2,189.5 163.8,189.5 164.4,189.5 165.0,189.5 165.6,189.5 166.2,189.5 166.6,189.5 166.7,189.5 166.8,189.5 166.8,189.5 167.0,189.5 167.1,189.4 167.2,189.2 167.3,188.8 167.4,188.4 167.4,188.3 167.5,187.5 167.7,186.5 167.8,185.5 167.9,184.8 168.0,184.5 168.0,184.5 168.1,184.8 168.2,185.5 168.3,186.3 168.3,186.5 168.4,187.2 168.5,187.5 168.5,188.0 168.6,188.3 168.6,188.4 168.6,188.6 168.7,188.8 168.7,189.0 168.8,189.1 168.8,189.1 168.9,189.2 168.9,189.2 168.9,189.1 169.0,189.1 169.0,189.0 169.1,188.9 169.1,188.9 169.1,188.6 169.2,188.6 169.2,188.4 169.2,188.4 169.3,188.1 169.3,188.1 169.3,187.8 169.4,187.5 169.4,187.2 169.5,186.9 169.5,186.6 169.6,186.4 169.7,186.1 169.7,186.0 169.8,185.8 169.8,185.7 169.8,185.7 169.9,185.6 169.9,185.5 170.0,185.5 170.0,185.5 170.1,185.7 170.2,186.1 170.2,186.2 170.3,186.7 170.3,186.8 170.4,187.1 170.4,187.3 170.5,187.5 170.5,188.0 170.6,188.1 170.6,188.5 170.7,188.7 170.8,188.9 170.8,189.1 170.9,189.2 170.9,189.3 171.0,189.4 171.0,189.4 171.1,189.5 171.3,189.5 171.4,189.6 171.6,189.6 172.2,189.5 172.8,189.5 173.4,189.5 174.0,189.5 174.6,189.5 175.2,189.5 175.8,189.5 176.4,189.5 177.0,189.5 177.6,189.5 178.2,189.5 178.8,189.5 179.4,189.5 180.0,189.5 180.6,189.5 181.2,189.5 181.8,189.5 182.4,189.5 183.0,189.5 183.6,189.5 184.2,189.5 184.8,189.5 185.4,189.5 186.0,189.5 186.6,189.5 187.2,189.5 187.8,189.6 188.4,189.6 189.0,189.5 189.6,189.5 190.2,189.5 190.8,189.5 191.4,189.5 192.0,189.5 192.6,189.5 193.2,189.5 193.8,189.5 194.4,189.5 195.0,189.5 195.6,189.5 196.2,189.5 196.8,189.4 197.4,189.4 198.0,189.4 198.6,189.5 199.2,189.5 199.8,189.5 200.4,189.5 201.0,189.5 201.6,189.5 202.2,189.5 202.8,189.5 203.4,189.5 204.0,189.5 204.6,189.5 205.2,189.5 205.8,189.5 206.4,189.5 207.0,189.5 207.6,189.5 208.2,189.5 208.8,189.5 209.4,189.5 210.0,189.5 210.6,189.5 211.2,189.5 211.8,189.5 212.4,189.5 213.0,189.5 213.6,189.5 214.2,189.5 214.8,189.5 215.4,189.5 216.0,189.5 216.6,189.5 217.2,189.5 217.8,189.5 218.4,189.5 219.0,189.5 219.6,189.5 220.2,189.5" fill="none" stroke="#1a1a1a" stroke-width="1.0" stroke-linejoin="round" />
<line x1="220.10" y1="46.60" x2="231.40" y2="46.60" stroke="#333333" stroke-width="1.0" />
<text transform="translate(238.05,49.58) scale(1.0000,1)" font-size="8.700" font-weight="normal" fill="#000" stroke="#000" stroke-width="0.080">1 nmol</text>
<line x1="220.10" y1="60.65" x2="231.40" y2="60.65" stroke="#e070e8" stroke-width="1.0" />
<text transform="translate(238.40,63.63) scale(1.0000,1)" font-size="8.700" font-weight="normal" fill="#000" stroke="#000" stroke-width="0.080">5 nmol</text>
<line x1="220.10" y1="74.70" x2="231.40" y2="74.70" stroke="#5050f0" stroke-width="1.0" />
<text transform="translate(238.31,77.68) scale(1.0000,1)" font-size="8.700" font-weight="normal" fill="#000" stroke="#000" stroke-width="0.080">7 nmol</text>
<line x1="220.10" y1="88.75" x2="231.40" y2="88.75" stroke="#40c840" stroke-width="1.0" />
<text transform="translate(238.05,91.73) scale(1.0000,1)" font-size="8.700" font-weight="normal" fill="#000" stroke="#000" stroke-width="0.080">10 nmol</text>
<line x1="220.10" y1="102.80" x2="231.40" y2="102.80" stroke="#f05050" stroke-width="1.0" />
<text transform="translate(238.05,105.78) scale(1.0000,1)" font-size="8.700" font-weight="normal" fill="#000" stroke="#000" stroke-width="0.080">15 nmol</text>
<text transform="translate(122.89,61.33) scale(1.0000,1)" font-size="8.500" font-weight="bold" fill="#000" stroke="#000" stroke-width="0.150">1</text>
<text transform="translate(160.27,82.23) scale(1.0000,1)" font-size="8.500" font-weight="bold" fill="#000" stroke="#000" stroke-width="0.150">6</text>
<text transform="translate(157.51,92.66) scale(1.0000,1)" font-size="8.500" font-weight="bold" fill="#000" stroke="#000" stroke-width="0.150">(c)</text>
<text transform="translate(184.47,91.83) scale(1.0000,1)" font-size="8.500" font-weight="bold" fill="#000" stroke="#000" stroke-width="0.150">6</text>
<text transform="translate(175.99,101.91) scale(1.0000,1)" font-size="8.500" font-weight="bold" fill="#000" stroke="#000" stroke-width="0.150">(a, b)</text>
<text transform="translate(383.33,30.39) scale(1.0000,1)" font-size="8.813" font-weight="bold" fill="#000" stroke="#000" stroke-width="0.150">Radio-HPLC</text>
<line x1="326.20" y1="42.80" x2="326.20" y2="209.00" stroke="#000" stroke-width="1.2" />
<line x1="322.70" y1="205.50" x2="492.75" y2="205.50" stroke="#000" stroke-width="1.2" />
<line x1="322.20" y1="151.30" x2="326.20" y2="151.30" stroke="#000" stroke-width="1.1" />
<line x1="322.20" y1="97.10" x2="326.20" y2="97.10" stroke="#000" stroke-width="1.1" />
<line x1="322.20" y1="42.90" x2="326.20" y2="42.90" stroke="#000" stroke-width="1.1" />
<line x1="324.00" y1="187.43" x2="326.20" y2="187.43" stroke="#000" stroke-width="1.0" />
<line x1="324.00" y1="169.37" x2="326.20" y2="169.37" stroke="#000" stroke-width="1.0" />
<line x1="324.00" y1="133.23" x2="326.20" y2="133.23" stroke="#000" stroke-width="1.0" />
<line x1="324.00" y1="115.17" x2="326.20" y2="115.17" stroke="#000" stroke-width="1.0" />
<line x1="324.00" y1="79.03" x2="326.20" y2="79.03" stroke="#000" stroke-width="1.0" />
<line x1="324.00" y1="60.97" x2="326.20" y2="60.97" stroke="#000" stroke-width="1.0" />
<text transform="translate(318.41,207.97) scale(0.9400,1)" font-size="7.170" font-weight="bold" fill="#000" stroke="#000" stroke-width="0.080">0</text>
<text transform="translate(299.68,153.77) scale(0.9400,1)" font-size="7.170" font-weight="bold" fill="#000" stroke="#000" stroke-width="0.080">200000</text>
<text transform="translate(299.68,99.57) scale(0.9400,1)" font-size="7.170" font-weight="bold" fill="#000" stroke="#000" stroke-width="0.080">400000</text>
<text transform="translate(299.68,45.37) scale(0.9400,1)" font-size="7.170" font-weight="bold" fill="#000" stroke="#000" stroke-width="0.080">600000</text>
<line x1="353.88" y1="205.50" x2="353.88" y2="207.10" stroke="#000" stroke-width="1.1" />
<line x1="381.55" y1="205.50" x2="381.55" y2="208.80" stroke="#000" stroke-width="1.1" />
<line x1="409.23" y1="205.50" x2="409.23" y2="207.10" stroke="#000" stroke-width="1.1" />
<line x1="436.90" y1="205.50" x2="436.90" y2="208.80" stroke="#000" stroke-width="1.1" />
<line x1="464.57" y1="205.50" x2="464.57" y2="207.10" stroke="#000" stroke-width="1.1" />
<line x1="492.25" y1="205.50" x2="492.25" y2="208.80" stroke="#000" stroke-width="1.1" />
<text transform="translate(323.00,215.08) scale(0.9400,1)" font-size="6.032" font-weight="bold" fill="#000" stroke="#000" stroke-width="0.080">10</text>
<text transform="translate(378.32,215.05) scale(0.9400,1)" font-size="6.032" font-weight="bold" fill="#000" stroke="#000" stroke-width="0.080">15</text>
<text transform="translate(433.78,215.08) scale(0.9400,1)" font-size="6.032" font-weight="bold" fill="#000" stroke="#000" stroke-width="0.080">20</text>
<text transform="translate(489.10,215.08) scale(0.9400,1)" font-size="6.032" font-weight="bold" fill="#000" stroke="#000" stroke-width="0.080">25</text>
<text transform="translate(392.38,225.10) scale(1.0000,1)" font-size="6.928" font-weight="bold" fill="#000" stroke="#000" stroke-width="0.150">Time (min)</text>
<text transform="translate(296.13,148.90) rotate(-90) scale(1.0000,1)" font-size="7.920" font-weight="bold" fill="#000" stroke="#000" stroke-width="0.150">Intensity (mV)</text>
<polyline points="326.2,158.4 326.8,158.5 327.4,158.6 328.0,158.6 328.6,158.7 329.2,158.8 329.8,158.9 330.4,158.9 331.0,158.8 331.6,158.7 332.2,158.8 332.8,158.9 333.4,158.9 334.0,158.9 334.6,159.0 335.2,159.1 335.8,159.0 336.4,158.9 337.0,158.7 337.6,158.6 338.2,158.6 338.8,158.8 339.4,159.0 340.0,159.0 340.6,159.1 341.2,159.0 341.8,159.0 342.4,159.1 343.0,159.3 343.6,159.2 344.2,159.2 344.8,159.2 345.4,159.3 346.0,159.4 346.6,159.4 347.2,159.4 347.8,159.3 348.4,159.3 349.0,159.3 349.6,159.3 350.2,159.4 350.8,159.4 351.4,159.5 352.0,159.6 352.6,159.6 353.2,159.5 353.8,159.5 354.4,159.7 355.0,159.7 355.6,159.6 356.2,159.5 356.8,159.6 357.4,159.7 358.0,159.7 358.6,159.7 359.2,159.6 359.8,159.6 360.4,159.6 361.0,159.6 361.6,159.7 362.2,159.9 362.8,160.0 363.4,159.9 364.0,159.9 364.6,159.8 365.2,159.8 365.8,159.9 366.4,160.1 367.0,160.2 367.6,160.4 368.2,160.3 368.8,160.1 369.4,160.0 370.0,160.0 370.6,160.0 371.2,160.0 371.8,160.0 372.4,160.1 373.0,160.1 373.6,160.1 374.2,160.1 374.8,160.1 375.4,160.2 376.0,160.1 376.6,160.0 377.2,160.0 377.8,160.1 378.4,160.2 379.0,160.2 379.6,160.2 380.2,160.3 380.8,160.4 381.4,160.3 382.0,160.2 382.6,160.3 383.2,160.4 383.8,160.4 384.4,160.4 385.0,160.5 385.6,160.8 386.2,160.9 386.8,160.7 387.4,160.5 388.0,160.6 388.6,160.6 389.2,160.7 389.8,160.7 390.4,160.6 391.0,160.5 391.6,160.5 392.2,160.6 392.8,160.7 393.4,160.8 393.5,160.8 393.8,160.8 394.0,160.8 394.1,160.8 394.4,160.9 394.6,160.9 394.7,160.9 395.0,160.9 395.2,160.8 395.3,160.8 395.6,160.6 395.8,160.4 395.9,160.4 396.2,160.1 396.4,159.9 396.5,159.9 396.8,159.8 397.0,159.8 397.0,159.8 397.3,159.9 397.6,160.1 397.6,160.1 397.9,160.3 398.2,160.4 398.2,160.5 398.5,160.6 398.8,160.7 398.8,160.7 399.1,160.8 399.4,160.9 399.4,160.9 399.7,161.0 400.0,161.1 400.3,161.1 400.6,161.1 401.2,160.9 401.8,160.8 402.4,160.9 403.0,161.0 403.6,161.1 403.9,161.1 404.2,161.2 404.2,161.2 404.4,161.2 404.7,161.1 404.8,161.1 404.9,161.1 405.2,160.9 405.4,160.7 405.5,160.6 405.7,160.1 406.0,159.4 406.0,159.3 406.2,158.6 406.5,157.8 406.6,157.5 406.8,157.1 407.0,156.8 407.2,156.9 407.3,157.0 407.5,157.6 407.8,158.4 407.8,158.5 408.0,159.2 408.3,160.0 408.4,160.3 408.6,160.6 408.8,161.0 409.0,161.2 409.1,161.3 409.3,161.4 409.6,161.4 409.6,161.4 409.9,161.4 410.1,161.3 410.2,161.3 410.8,161.2 411.4,161.3 412.0,161.5 412.6,161.5 413.2,161.5 413.8,161.5 414.4,161.4 415.0,161.4 415.6,161.4 416.2,161.5 416.8,161.7 417.4,161.7 418.0,161.7 418.6,161.6 419.2,161.6 419.8,161.5 420.4,161.6 421.0,161.7 421.6,161.8 422.2,161.9 422.8,161.9 423.4,161.8 424.0,161.8 424.6,161.9 425.2,162.0 425.8,162.0 426.4,161.9 427.0,161.9 427.6,161.9 428.2,161.9 428.8,161.9 429.4,162.0 430.0,162.0 430.6,162.1 431.2,162.2 431.8,162.2 432.4,162.1 433.0,162.0 433.0,162.0 433.6,162.1 433.8,162.1 434.2,162.1 434.5,162.1 434.8,162.1 435.2,162.1 435.4,162.1 436.0,162.0 436.0,162.0 436.5,161.9 436.6,161.9 436.6,161.9 436.7,161.8 436.8,161.8 436.9,161.6 437.0,161.3 437.1,161.0 437.2,160.7 437.2,160.6 437.3,159.6 437.4,159.4 437.5,158.4 437.5,157.9 437.6,156.2 437.6,155.5 437.8,152.5 437.8,152.2 437.8,151.3 437.9,149.4 438.1,146.6 438.2,145.1 438.2,144.7 438.3,143.9 438.4,143.6 438.4,143.4 438.5,142.9 438.6,142.7 438.7,141.8 438.8,140.1 438.8,139.8 438.9,137.2 439.0,136.1 439.0,135.1 439.0,133.8 439.1,131.0 439.3,124.6 439.3,123.8 439.4,117.7 439.5,112.7 439.6,111.1 439.6,109.4 439.7,106.9 439.7,105.7 439.8,104.1 439.9,102.0 440.0,100.6 440.2,102.6 440.2,103.5 440.4,108.7 440.5,111.7 440.7,122.8 440.8,126.6 441.0,133.9 441.1,141.2 441.2,143.1 441.2,143.7 441.4,148.7 441.4,149.6 441.5,150.3 441.7,153.4 441.7,154.0 441.9,155.1 441.9,155.3 442.0,155.6 442.0,155.6 442.2,155.9 442.3,155.8 442.4,155.4 442.5,154.7 442.6,154.0 442.6,153.8 442.6,153.6 442.8,152.0 443.0,147.4 443.2,143.1 443.3,140.6 443.4,138.4 443.5,132.3 443.8,124.1 444.1,118.0 444.1,117.5 444.3,116.0 444.4,116.4 444.6,118.7 444.8,125.6 445.0,131.3 445.1,134.6 445.3,143.6 445.6,150.2 445.6,150.9 445.6,151.2 445.9,156.5 446.1,159.8 446.2,160.4 446.3,161.2 446.4,161.6 446.6,162.5 446.8,162.8 446.9,163.0 447.0,163.1 447.2,163.2 447.4,163.3 447.4,163.3 447.8,163.3 448.0,163.3 448.5,163.4 448.6,163.4 449.2,163.5 449.3,163.5 449.8,163.5 450.0,163.6 450.4,163.7 450.7,163.7 451.0,163.8 451.6,163.8 452.2,163.9 452.8,164.0 453.4,164.1 454.0,164.2 454.2,164.2 454.4,164.2 454.6,164.2 454.6,164.2 454.8,164.3 455.1,164.3 455.2,164.2 455.3,164.2 455.5,164.1 455.7,164.0 455.8,163.9 455.9,163.8 456.2,163.6 456.4,163.3 456.4,163.3 456.6,163.0 456.8,162.9 457.0,163.0 457.0,163.0 457.3,163.2 457.5,163.4 457.6,163.6 457.7,163.7 457.9,164.0 458.2,164.2 458.2,164.2 458.4,164.3 458.6,164.4 458.8,164.4 458.8,164.4 459.0,164.5 459.3,164.5 459.4,164.6 459.5,164.6 459.7,164.6 459.9,164.7 460.0,164.7 460.1,164.7 460.4,164.7 460.6,164.7 460.6,164.7 460.8,164.7 461.0,164.6 461.2,164.5 461.3,164.5 461.5,164.3 461.7,164.1 461.8,164.0 461.9,163.9 462.1,163.8 462.4,163.7 462.4,163.7 462.6,163.8 462.8,163.9 463.0,164.1 463.0,164.2 463.2,164.4 463.5,164.6 463.6,164.7 463.7,164.7 463.9,164.8 464.1,164.9 464.2,164.9 464.4,165.0 464.6,165.0 464.8,165.1 464.8,165.1 465.0,165.2 465.4,165.2 466.0,165.3 466.6,165.4 467.2,165.4 467.8,165.4 468.4,165.3 469.0,165.1 469.6,165.3 470.2,165.5 470.8,165.7 471.4,165.6 472.0,165.7 472.6,166.0 473.2,166.2 473.8,166.1 474.4,165.9 475.0,166.2 475.6,166.4 476.2,166.5 476.8,166.5 477.4,166.6 478.0,166.6 478.6,166.6 479.2,166.6 479.8,166.6 480.4,166.7 481.0,166.7 481.6,166.8 482.2,166.9 482.8,167.1 483.4,167.2 484.0,167.4 484.6,167.6 485.2,167.6 485.8,167.5 486.4,167.6 487.0,168.0 487.6,168.4 488.2,168.7 488.8,168.9 489.4,169.0 490.0,169.2 490.6,169.5 491.2,169.9 491.8,170.2 492.2,170.4" fill="none" stroke="#1a1a1a" stroke-width="1.0" stroke-linejoin="round" />
<polyline points="326.2,173.2 326.8,173.4 327.4,173.7 328.0,173.7 328.6,173.7 329.2,173.6 329.8,173.5 330.4,173.6 331.0,173.8 331.6,173.8 332.2,173.7 332.8,173.6 333.4,173.4 334.0,173.3 334.6,173.4 335.2,173.5 335.8,173.5 336.4,173.5 337.0,173.4 337.6,173.4 338.2,173.4 338.8,173.6 339.4,173.6 340.0,173.5 340.6,173.4 341.2,173.5 341.8,173.6 342.4,173.6 343.0,173.6 343.6,173.6 344.2,173.5 344.8,173.5 345.4,173.4 346.0,173.5 346.6,173.5 347.2,173.5 347.8,173.5 348.4,173.5 349.0,173.4 349.6,173.2 350.2,173.2 350.8,173.2 351.4,173.2 352.0,173.3 352.6,173.3 353.2,173.4 353.8,173.4 354.4,173.5 355.0,173.6 355.6,173.5 356.2,173.5 356.8,173.6 357.4,173.6 358.0,173.5 358.6,173.3 359.2,173.3 359.8,173.2 360.4,173.2 361.0,173.2 361.6,173.2 362.2,173.3 362.8,173.4 363.4,173.4 364.0,173.4 364.6,173.3 365.2,173.3 365.8,173.3 366.4,173.3 367.0,173.3 367.6,173.2 368.2,173.2 368.8,173.1 369.4,173.1 370.0,173.3 370.6,173.4 371.2,173.1 371.8,173.0 372.4,173.3 373.0,173.7 373.6,173.7 374.2,173.6 374.8,173.6 375.4,173.6 376.0,173.5 376.6,173.5 377.2,173.4 377.8,173.4 378.4,173.2 379.0,173.0 379.6,172.9 380.2,173.1 380.8,173.4 381.4,173.2 382.0,173.1 382.6,173.1 383.2,173.3 383.8,173.3 384.4,173.2 385.0,173.3 385.6,173.4 386.2,173.3 386.8,173.0 387.4,172.8 388.0,173.0 388.6,173.2 389.2,173.3 389.8,173.3 390.4,173.1 391.0,172.9 391.6,172.9 392.2,173.1 392.8,173.2 393.4,173.1 394.0,173.1 394.6,173.2 395.2,173.2 395.8,173.3 396.4,173.3 397.0,173.4 397.6,173.4 398.2,173.3 398.8,173.2 399.4,173.1 400.0,172.9 400.6,172.9 401.2,173.0 401.8,173.1 402.4,173.1 403.0,173.2 403.6,173.1 404.2,172.9 404.8,173.1 405.4,173.3 406.0,173.1 406.6,172.9 407.2,172.9 407.8,173.1 408.4,173.2 409.0,173.2 409.6,173.2 410.2,173.1 410.8,173.0 411.4,173.0 412.0,173.0 412.6,173.1 413.2,173.1 413.8,173.1 414.4,173.1 415.0,173.0 415.6,172.9 416.2,172.9 416.8,172.8 417.4,172.9 418.0,173.1 418.6,173.3 419.2,173.4 419.8,173.6 420.4,173.1 421.0,172.7 421.6,172.8 422.2,173.0 422.8,173.1 423.4,173.1 424.0,173.1 424.6,173.0 425.2,173.0 425.8,173.1 426.4,173.1 427.0,173.0 427.6,172.8 428.2,173.0 428.8,173.2 429.4,173.2 430.0,173.1 430.6,173.1 431.2,173.2 431.8,173.1 432.4,172.9 432.5,172.8 432.7,172.8 432.8,172.7 433.0,172.8 433.0,172.8 433.2,172.8 433.4,172.8 433.6,172.8 433.6,172.8 433.8,172.8 433.9,172.8 434.1,172.7 434.2,172.7 434.3,172.6 434.5,172.4 434.7,172.4 434.8,172.4 434.9,172.4 435.1,172.4 435.2,172.5 435.4,172.5 435.4,172.6 435.6,172.6 435.8,172.7 436.0,172.7 436.0,172.7 436.2,172.7 436.3,172.7 436.5,172.7 436.6,172.7 436.7,172.7 436.9,172.8 437.2,172.9 437.8,173.1 438.4,173.2 439.0,173.1 439.6,173.0 440.2,172.9 440.8,172.9 441.4,173.0 441.4,173.0 441.7,173.0 441.9,173.0 442.0,173.0 442.1,173.0 442.3,173.0 442.5,172.8 442.6,172.8 442.8,172.6 443.0,172.3 443.2,171.8 443.2,171.7 443.4,171.1 443.7,170.4 443.8,170.1 443.9,169.9 444.1,169.7 444.3,169.9 444.4,170.0 444.5,170.3 444.8,170.9 445.0,171.6 445.0,171.6 445.2,172.1 445.4,172.5 445.6,172.7 445.6,172.7 445.9,172.8 446.1,172.9 446.2,173.0 446.3,173.0 446.5,173.1 446.8,173.1 446.8,173.1 447.4,173.2 448.0,173.2 448.6,173.1 449.2,173.1 449.8,173.0 450.4,173.1 451.0,173.1 451.6,173.1 452.2,173.1 452.8,173.2 453.4,173.4 454.0,173.2 454.6,173.0 455.2,173.0 455.8,173.1 456.4,173.2 457.0,173.2 457.6,173.2 458.2,173.2 458.8,173.3 459.4,173.3 460.0,173.3 460.6,173.3 461.2,173.3 461.8,173.3 462.4,173.4 463.0,173.4 463.6,173.3 464.2,173.2 464.8,173.2 465.4,173.1 466.0,173.2 466.6,173.3 467.2,173.2 467.8,173.2 468.4,173.2 469.0,173.3 469.6,173.3 470.2,173.4 470.8,173.3 471.4,173.2 472.0,173.1 472.6,173.4 473.2,173.5 473.8,173.5 474.4,173.4 475.0,173.3 475.6,173.3 476.2,173.3 476.8,173.4 477.4,173.5 478.0,173.6 478.6,173.7 479.2,173.7 479.8,173.6 480.4,173.4 481.0,173.3 481.6,173.6 482.2,174.0 482.8,174.0 483.4,174.1 484.0,174.2 484.6,174.3 485.2,174.4 485.8,174.6 486.4,174.9 487.0,175.2 487.6,175.6 488.2,176.0 488.8,176.2 489.4,176.4 490.0,176.5 490.6,176.9 491.2,177.2 491.8,177.5 492.2,177.7" fill="none" stroke="#2a2af0" stroke-width="1.0" stroke-linejoin="round" />
<polyline points="326.2,182.2 326.8,182.3 327.4,182.5 328.0,182.5 328.6,182.6 329.2,182.5 329.8,182.3 330.4,182.2 331.0,182.4 331.6,182.5 332.2,182.6 332.8,182.7 333.4,182.7 334.0,182.8 334.6,182.6 335.2,182.4 335.8,182.6 336.4,182.7 337.0,182.8 337.6,182.8 338.2,182.7 338.8,182.6 339.4,182.5 340.0,182.6 340.6,182.6 341.2,182.6 341.8,182.6 342.4,182.8 343.0,183.0 343.6,183.2 344.2,183.3 344.8,183.3 345.4,183.1 346.0,183.0 346.6,183.0 347.2,183.0 347.8,183.0 348.4,183.1 349.0,183.0 349.6,182.8 350.2,182.9 350.8,183.0 351.4,183.1 352.0,183.2 352.6,183.2 353.2,183.1 353.8,183.1 354.4,183.2 355.0,183.2 355.6,183.3 356.2,183.3 356.8,183.2 357.4,183.1 358.0,183.3 358.6,183.6 359.2,183.5 359.8,183.2 360.4,183.2 361.0,183.2 361.6,183.4 362.2,183.6 362.8,183.8 363.4,183.7 364.0,183.5 364.6,183.6 365.2,183.6 365.8,183.7 366.4,183.8 367.0,183.8 367.6,183.8 368.2,183.8 368.8,183.8 369.4,183.8 370.0,183.7 370.6,183.7 371.2,183.8 371.8,183.9 372.4,184.1 373.0,184.2 373.6,183.9 374.2,183.7 374.8,183.7 375.4,183.7 376.0,183.8 376.6,184.0 377.2,184.0 377.8,183.9 378.4,183.8 379.0,183.7 379.6,183.7 380.2,184.0 380.8,184.4 381.4,184.3 382.0,184.2 382.6,184.2 383.2,184.3 383.8,184.2 384.4,184.2 385.0,184.2 385.6,184.3 386.2,184.4 386.8,184.5 387.4,184.5 388.0,184.3 388.6,184.1 389.2,184.3 389.8,184.4 390.4,184.4 391.0,184.3 391.6,184.2 392.2,184.1 392.8,184.2 393.4,184.5 394.0,184.7 394.6,184.7 395.2,184.6 395.8,184.5 396.4,184.5 397.0,184.6 397.6,184.7 398.2,184.7 398.8,184.6 399.4,184.7 400.0,184.7 400.6,184.6 401.2,184.4 401.8,184.3 402.4,184.6 403.0,184.7 403.6,184.8 404.2,184.8 404.8,184.9 405.4,184.9 406.0,184.9 406.6,184.9 407.2,185.0 407.8,185.2 408.4,185.3 409.0,185.2 409.6,185.1 410.2,185.0 410.8,185.0 411.4,185.2 412.0,185.4 412.6,185.3 413.2,185.2 413.8,185.2 414.4,185.3 415.0,185.3 415.6,185.4 416.2,185.3 416.8,185.0 417.4,184.9 418.0,185.1 418.6,185.3 419.2,185.3 419.8,185.4 420.4,185.5 421.0,185.6 421.6,185.6 422.2,185.5 422.8,185.5 423.4,185.6 424.0,185.6 424.6,185.6 425.2,185.6 425.8,185.6 426.4,185.6 427.0,185.4 427.6,185.2 428.2,185.4 428.8,185.5 429.4,185.5 430.0,185.5 430.6,185.5 431.2,185.6 431.8,185.5 432.4,185.4 433.0,185.5 433.6,185.8 434.2,186.1 434.7,186.1 434.8,186.1 434.9,186.2 435.1,186.2 435.2,186.2 435.4,186.2 435.4,186.2 435.6,186.1 435.8,186.1 436.0,186.0 436.0,186.0 436.2,185.9 436.3,185.7 436.5,185.6 436.6,185.6 436.7,185.5 436.9,185.5 437.1,185.5 437.2,185.6 437.3,185.6 437.5,185.7 437.6,185.8 437.6,185.8 437.8,185.9 437.8,185.9 437.8,185.9 438.0,186.0 438.2,186.0 438.2,186.0 438.4,186.0 438.4,186.0 438.4,186.0 438.6,186.0 438.7,185.9 438.7,185.8 438.9,185.7 438.9,185.6 439.0,185.5 439.1,185.2 439.3,184.7 439.6,184.0 439.6,183.8 439.8,183.3 440.0,182.7 440.2,182.6 440.2,182.6 440.4,182.8 440.7,183.4 440.8,183.8 440.9,184.1 441.1,184.8 441.3,185.4 441.4,185.5 441.5,185.8 441.8,186.0 442.0,186.1 442.0,186.1 442.2,186.2 442.4,186.2 442.6,186.2 442.7,186.2 442.9,186.2 443.2,186.1 443.5,186.2 443.7,186.3 443.8,186.3 443.9,186.3 444.1,186.4 444.3,186.4 444.4,186.4 444.5,186.5 444.6,186.4 444.8,186.4 445.0,186.3 445.0,186.3 445.2,186.1 445.4,186.0 445.6,185.9 445.6,185.9 445.8,185.9 445.9,185.9 446.1,186.0 446.2,186.0 446.3,186.1 446.5,186.3 446.7,186.4 446.8,186.4 446.9,186.4 447.0,186.5 447.2,186.5 447.4,186.6 447.4,186.6 447.6,186.6 447.8,186.7 448.0,186.8 448.0,186.8 448.6,186.9 449.2,186.9 449.8,187.0 450.4,186.9 451.0,186.9 451.6,187.2 452.2,187.5 452.8,187.2 453.4,186.9 454.0,186.9 454.6,187.2 455.2,187.3 455.8,187.2 456.4,187.2 457.0,187.3 457.6,187.4 458.2,187.4 458.8,187.4 459.4,187.6 460.0,187.8 460.6,187.6 461.2,187.4 461.8,187.4 462.4,187.6 463.0,187.7 463.6,187.7 464.2,187.7 464.8,187.5 465.4,187.4 466.0,187.8 466.6,188.3 467.2,188.1 467.8,188.0 468.4,188.0 469.0,188.2 469.6,188.3 470.2,188.5 470.8,188.4 471.4,188.2 472.0,188.1 472.6,188.4 473.2,188.7 473.8,188.6 474.4,188.5 475.0,188.6 475.6,188.6 476.2,188.6 476.8,188.7 477.4,188.8 478.0,188.9 478.6,188.9 479.2,188.7 479.8,188.7 480.4,188.8 481.0,188.9 481.6,189.2 482.2,189.5 482.8,189.7 483.4,189.9 484.0,189.9 484.6,190.0 485.2,190.2 485.8,190.5 486.4,190.7 487.0,190.7 487.6,190.9 488.2,191.2 488.8,191.5 489.4,191.8 490.0,192.2 490.6,192.5 491.2,192.9 491.8,193.2 492.2,193.3" fill="none" stroke="#f03030" stroke-width="1.0" stroke-linejoin="round" />
<line x1="470.10" y1="31.00" x2="477.90" y2="31.00" stroke="#f06060" stroke-width="1.0" />
<line x1="470.10" y1="40.65" x2="477.90" y2="40.65" stroke="#4040f0" stroke-width="1.0" />
<line x1="470.10" y1="50.30" x2="477.90" y2="50.30" stroke="#333" stroke-width="1.0" />
<text transform="translate(482.07,32.79) scale(1.0000,1)" font-size="5.942" font-weight="normal" fill="#333" stroke="#333" stroke-width="0.080">DHP (a)</text>
<text transform="translate(482.07,42.41) scale(1.0000,1)" font-size="6.000" font-weight="normal" fill="#333" stroke="#333" stroke-width="0.080">DHP (b)</text>
<text transform="translate(482.07,51.42) scale(1.0000,1)" font-size="6.031" font-weight="normal" fill="#333" stroke="#333" stroke-width="0.080">DHP (a, b)</text>
<text transform="translate(432.94,82.15) scale(1.0000,1)" font-size="8.525" font-weight="bold" fill="#000" stroke="#000" stroke-width="0.150">[<tspan font-size="58%" dy="-0.603em" dx="0.05em">18</tspan><tspan dy="0.350em" dx="0.03em">F]6</tspan></text>
<text transform="translate(433.93,92.59) scale(1.0000,1)" font-size="8.428" font-weight="bold" fill="#000" stroke="#000" stroke-width="0.150">(a, b)</text>
<text transform="translate(614.45,32.16) scale(1.0000,1)" font-size="8.586" font-weight="bold" fill="#000" stroke="#000" stroke-width="0.150">Radio-HPLC</text>
<line x1="558.60" y1="43.60" x2="558.60" y2="207.70" stroke="#000" stroke-width="1.2" />
<line x1="555.10" y1="204.20" x2="721.40" y2="204.20" stroke="#000" stroke-width="1.2" />
<line x1="554.60" y1="123.90" x2="558.60" y2="123.90" stroke="#000" stroke-width="1.1" />
<line x1="554.60" y1="43.60" x2="558.60" y2="43.60" stroke="#000" stroke-width="1.1" />
<line x1="556.40" y1="177.43" x2="558.60" y2="177.43" stroke="#000" stroke-width="1.0" />
<line x1="556.40" y1="150.67" x2="558.60" y2="150.67" stroke="#000" stroke-width="1.0" />
<line x1="556.40" y1="97.13" x2="558.60" y2="97.13" stroke="#000" stroke-width="1.0" />
<line x1="556.40" y1="70.37" x2="558.60" y2="70.37" stroke="#000" stroke-width="1.0" />
<text transform="translate(535.86,206.56) scale(0.9400,1)" font-size="6.830" font-weight="bold" fill="#000" stroke="#000" stroke-width="0.080">50000</text>
<text transform="translate(532.33,126.26) scale(0.9400,1)" font-size="6.830" font-weight="bold" fill="#000" stroke="#000" stroke-width="0.080">100000</text>
<text transform="translate(532.33,45.96) scale(0.9400,1)" font-size="6.830" font-weight="bold" fill="#000" stroke="#000" stroke-width="0.080">150000</text>
<line x1="585.65" y1="204.20" x2="585.65" y2="205.80" stroke="#000" stroke-width="1.1" />
<line x1="612.70" y1="204.20" x2="612.70" y2="207.50" stroke="#000" stroke-width="1.1" />
<line x1="639.75" y1="204.20" x2="639.75" y2="205.80" stroke="#000" stroke-width="1.1" />
<line x1="666.80" y1="204.20" x2="666.80" y2="207.50" stroke="#000" stroke-width="1.1" />
<line x1="693.85" y1="204.20" x2="693.85" y2="205.80" stroke="#000" stroke-width="1.1" />
<line x1="720.90" y1="204.20" x2="720.90" y2="207.50" stroke="#000" stroke-width="1.1" />
<text transform="translate(555.22,214.45) scale(0.9400,1)" font-size="6.372" font-weight="bold" fill="#000" stroke="#000" stroke-width="0.080">10</text>
<text transform="translate(609.29,214.42) scale(0.9400,1)" font-size="6.372" font-weight="bold" fill="#000" stroke="#000" stroke-width="0.080">15</text>
<text transform="translate(663.51,214.45) scale(0.9400,1)" font-size="6.372" font-weight="bold" fill="#000" stroke="#000" stroke-width="0.080">20</text>
<text transform="translate(717.58,214.45) scale(0.9400,1)" font-size="6.372" font-weight="bold" fill="#000" stroke="#000" stroke-width="0.080">25</text>
<text transform="translate(620.87,225.27) scale(1.0000,1)" font-size="7.570" font-weight="bold" fill="#000" stroke="#000" stroke-width="0.150">Time (min)</text>
<text transform="translate(528.00,148.49) rotate(-90) scale(1.0000,1)" font-size="7.689" font-weight="bold" fill="#000" stroke="#000" stroke-width="0.150">Intensity (mV)</text>
<polyline points="558.6,95.0 559.2,94.2 559.8,93.5 560.4,93.8 561.0,94.5 561.6,94.5 562.2,94.1 562.8,93.9 563.4,93.7 564.0,93.7 564.6,93.8 565.2,93.8 565.8,93.7 566.4,93.6 567.0,93.3 567.6,93.0 568.2,93.2 568.8,93.5 569.4,93.4 570.0,93.2 570.6,93.2 571.2,93.3 571.8,93.1 572.4,92.4 573.0,91.8 573.6,92.3 574.2,92.7 574.8,92.5 575.4,92.2 576.0,93.0 576.6,94.1 577.2,93.9 577.8,93.1 578.4,92.8 579.0,92.9 579.6,92.9 580.2,92.5 580.8,92.2 581.4,92.3 582.0,92.4 582.6,92.5 583.2,92.6 583.8,92.4 584.4,92.2 585.0,91.8 585.6,91.4 586.3,91.2 586.9,91.1 587.5,91.1 588.1,91.6 588.7,91.8 589.3,90.9 589.9,90.0 590.5,91.0 591.1,92.1 591.7,91.5 592.3,90.7 592.9,91.0 593.5,91.9 594.1,91.7 594.7,90.5 595.3,89.4 595.9,88.5 596.5,88.1 597.1,89.7 597.7,91.3 598.3,90.3 598.9,89.3 599.5,90.5 600.1,92.1 600.7,92.3 601.3,91.7 601.9,90.4 602.5,88.3 603.1,87.4 603.7,89.1 604.3,90.4 604.9,90.0 605.5,89.6 606.1,90.9 606.7,92.2 607.3,91.6 607.9,90.5 608.5,90.4 609.1,90.9 609.7,90.5 610.3,89.2 610.9,88.6 611.5,89.7 612.1,90.3 612.7,88.3 613.3,86.3 613.9,88.5 614.5,90.8 615.1,90.4 615.7,89.4 616.3,90.1 616.9,91.5 617.5,91.7 618.1,90.7 618.7,89.6 619.3,88.5 619.9,87.8 620.5,88.6 621.1,89.4 621.7,90.1 622.3,90.8 622.9,89.9 623.5,88.8 624.1,88.2 624.7,87.8 625.3,87.9 625.9,88.2 626.5,88.3 627.1,87.9 627.7,87.9 628.3,89.4 628.9,90.9 629.5,88.9 630.1,86.8 630.7,87.1 631.3,87.8 631.9,89.2 632.5,91.0 633.1,90.6 633.7,88.1 634.3,86.9 634.9,88.4 635.5,89.5 636.1,88.9 636.7,88.3 637.3,89.9 637.9,91.4 638.5,91.0 639.1,90.1 639.8,90.4 640.4,91.1 641.0,90.7 641.6,89.0 642.2,88.1 642.8,88.8 643.4,89.4 644.0,89.8 644.6,90.3 645.2,89.9 645.8,89.6 646.4,88.7 647.0,87.8 647.6,88.3 648.2,89.5 648.8,89.7 649.4,88.8 650.0,88.7 650.6,89.8 651.2,90.8 651.8,91.1 652.4,91.4 653.0,90.7 653.6,90.0 654.2,89.7 654.8,89.6 655.4,89.4 656.0,89.1 656.6,88.8 657.2,88.3 657.8,88.3 658.4,89.2 659.0,89.9 659.6,89.9 660.2,89.9 660.8,89.2 661.4,88.5 662.0,88.5 662.6,88.8 663.2,89.1 663.8,89.4 664.4,89.5 665.0,89.3 665.6,89.7 665.6,89.7 665.8,90.1 665.9,90.5 666.0,90.8 666.2,91.1 666.2,91.2 666.3,91.4 666.5,91.6 666.6,91.7 666.8,91.4 666.8,91.3 666.9,90.7 667.1,90.0 667.2,89.4 667.3,89.0 667.4,89.0 667.5,88.9 667.6,89.0 667.8,89.2 667.9,89.5 668.0,89.6 668.1,89.8 668.2,90.2 668.4,90.6 668.5,90.8 668.6,91.0 668.6,91.0 668.8,91.2 668.9,91.3 668.9,91.4 669.0,91.5 669.1,91.6 669.1,91.7 669.2,91.8 669.3,91.9 669.4,91.8 669.6,91.7 669.7,91.7 669.8,91.8 669.9,91.8 670.0,92.0 670.2,92.3 670.3,92.6 670.4,92.8 670.4,92.8 670.6,92.8 670.7,92.5 670.9,91.9 671.0,91.4 671.0,91.3 671.2,90.7 671.3,90.1 671.5,89.7 671.6,89.3 671.6,89.3 671.7,89.2 671.7,89.0 671.8,88.9 671.9,88.8 672.0,88.8 672.0,88.9 672.2,88.9 672.2,88.9 672.2,88.9 672.3,88.9 672.5,88.5 672.6,87.6 672.8,85.9 672.8,85.8 673.0,83.4 673.1,80.4 673.3,77.3 673.4,75.4 673.5,74.8 673.6,73.9 673.8,74.7 673.9,77.1 674.0,78.4 674.1,80.2 674.3,83.4 674.4,86.0 674.6,87.9 674.6,88.1 674.8,89.1 674.9,89.8 675.1,90.2 675.2,90.3 675.2,90.3 675.4,90.5 675.8,90.6 676.4,90.7 677.0,90.7 677.6,90.8 678.2,90.9 678.8,90.9 679.4,90.9 680.0,91.0 680.6,91.2 681.2,91.5 681.8,91.7 682.4,91.9 683.0,91.7 683.6,91.5 684.2,91.7 684.8,91.8 685.4,91.8 686.0,91.8 686.6,91.9 687.2,92.0 687.8,92.2 688.4,92.5 689.0,92.6 689.6,92.6 690.2,92.5 690.8,92.6 691.4,92.7 692.0,92.8 692.6,92.9 693.2,93.0 693.9,93.1 694.5,93.2 695.1,93.2 695.7,93.4 696.3,93.6 696.9,93.7 697.5,93.8 698.1,93.8 698.7,93.8 699.3,93.7 699.9,94.1 700.5,94.4 701.1,94.4 701.7,94.4 702.3,94.6 702.9,94.8 703.5,94.9 704.1,95.0 704.7,95.1 705.3,95.1 705.9,95.2 706.5,95.2 707.1,95.4 707.7,95.8 708.3,96.1 708.9,96.7 709.5,97.9 710.1,99.0 710.7,100.1 711.3,101.2 711.9,102.3 712.5,103.5 713.1,104.7 713.7,106.0 714.3,107.5 714.9,109.0 715.5,109.8 716.1,110.6 716.7,111.7 717.3,112.8 717.9,114.0 718.5,115.3 719.1,116.5 719.7,117.5 720.3,118.5 720.6,118.9" fill="none" stroke="#2a2af0" stroke-width="1.0" stroke-linejoin="round" />
<polyline points="558.6,146.3 559.2,145.6 559.8,145.0 560.4,146.2 561.0,147.9 561.6,148.2 562.2,147.7 562.8,146.8 563.4,145.8 564.0,144.9 564.6,144.3 565.2,143.7 565.8,143.6 566.4,143.7 567.0,144.2 567.6,144.7 568.2,144.3 568.8,143.7 569.4,144.3 570.0,145.5 570.6,146.6 571.2,147.7 571.8,148.2 572.4,147.7 573.0,147.2 573.6,146.9 574.2,146.6 574.8,146.8 575.4,147.1 576.0,148.3 576.6,149.7 577.2,149.4 577.8,148.2 578.4,148.0 579.0,148.8 579.6,149.3 580.2,149.1 580.8,148.8 581.4,148.0 582.0,147.2 582.6,148.2 583.2,149.3 583.8,149.8 584.4,150.2 585.0,150.2 585.6,150.0 586.3,150.2 586.9,150.6 587.5,150.4 588.1,149.1 588.7,148.1 589.3,148.9 589.9,149.7 590.5,149.8 591.1,149.8 591.7,150.7 592.3,151.7 592.9,152.1 593.5,152.2 594.1,152.1 594.7,151.7 595.3,152.0 595.9,153.5 596.5,154.5 597.1,152.8 597.7,151.2 598.3,152.6 598.9,154.0 599.5,153.7 600.1,153.0 600.7,152.8 601.3,152.8 601.9,153.2 602.5,154.0 603.1,154.3 603.7,153.8 604.3,153.3 604.9,153.2 605.5,153.2 606.1,152.6 606.7,152.1 607.3,152.8 607.9,153.7 608.5,153.6 609.1,152.9 609.7,153.0 610.3,153.9 610.9,154.7 611.5,155.1 612.1,155.5 612.7,155.0 613.3,154.5 613.9,155.4 614.5,156.3 615.1,156.2 615.7,156.0 616.3,155.8 616.9,155.7 617.5,155.5 618.1,155.3 618.7,155.4 619.3,156.0 619.9,156.7 620.5,157.8 621.1,158.9 621.7,157.5 622.3,156.1 622.9,156.4 623.5,157.2 624.1,157.7 624.7,158.1 625.3,158.5 625.9,158.9 626.5,159.0 627.1,158.3 627.7,157.8 628.3,158.1 628.9,158.4 629.5,158.3 630.1,158.3 630.7,158.7 631.3,159.3 631.9,159.0 632.5,158.2 633.1,158.4 633.7,159.5 634.3,160.2 634.9,159.9 635.5,159.8 636.1,160.0 636.7,160.3 637.3,159.9 637.9,159.6 638.5,160.4 639.1,161.5 639.8,161.8 640.4,161.8 641.0,161.8 641.6,161.8 642.2,162.0 642.8,162.4 643.4,162.7 644.0,162.9 644.6,163.0 645.2,163.4 645.8,163.9 646.4,163.2 647.0,162.2 647.6,161.7 648.2,161.4 648.8,162.1 649.4,163.6 650.0,164.4 650.6,163.6 651.2,163.1 651.8,164.3 652.4,165.6 653.0,165.5 653.6,165.5 654.2,165.4 654.8,165.3 655.4,165.2 656.0,165.1 656.6,165.1 657.2,165.1 657.8,165.6 658.4,167.0 659.0,168.3 659.6,168.1 660.2,167.9 660.8,167.3 661.4,166.7 662.0,166.9 662.6,167.2 662.8,167.3 663.0,167.0 663.2,166.7 663.2,166.7 663.3,166.5 663.5,166.3 663.7,166.1 663.8,166.2 663.9,166.2 664.1,166.6 664.2,167.8 664.4,169.2 664.4,169.4 664.6,170.9 664.8,172.2 665.0,173.0 665.0,173.1 665.1,173.2 665.3,172.9 665.5,172.1 665.6,171.6 665.7,171.1 665.9,170.4 666.0,169.9 666.2,169.6 666.2,169.6 666.4,169.6 666.6,169.6 666.8,169.6 666.8,169.6 666.9,169.4 667.1,169.3 667.4,169.0 667.9,168.6 668.0,168.4 668.0,168.5 668.1,168.8 668.3,168.9 668.4,168.8 668.5,168.2 668.6,167.2 668.6,166.7 668.8,164.0 668.9,160.1 669.0,155.3 669.1,150.5 669.2,148.6 669.3,147.0 669.4,145.7 669.5,147.1 669.6,150.9 669.8,156.1 669.8,157.4 669.9,161.3 670.0,165.5 670.2,168.6 670.3,170.4 670.4,171.4 670.5,171.7 670.5,171.8 670.6,172.0 670.7,171.9 670.8,171.7 670.8,171.7 670.9,171.4 671.0,171.3 671.1,171.2 671.2,170.9 671.3,170.8 671.5,170.9 671.5,170.9 671.6,171.0 671.6,171.0 671.7,171.2 671.8,171.3 671.9,171.5 671.9,171.6 672.1,172.4 672.2,172.8 672.2,172.9 672.4,172.9 672.4,172.7 672.5,172.5 672.6,172.0 672.6,171.8 672.8,171.1 672.8,170.9 672.9,170.3 673.0,170.1 673.1,169.7 673.1,169.5 673.2,169.3 673.3,168.9 673.4,168.8 673.4,168.7 673.5,168.6 673.7,168.8 673.7,168.9 673.7,168.9 673.8,169.2 673.9,169.5 673.9,169.8 674.0,170.1 674.0,170.3 674.2,170.8 674.2,171.1 674.3,171.5 674.4,171.9 674.4,172.1 674.6,172.6 674.6,172.8 674.7,173.3 674.8,173.4 674.9,173.9 675.0,174.3 675.0,174.6 675.1,175.1 675.2,175.2 675.2,175.4 675.3,175.7 675.5,175.9 675.5,176.0 675.6,175.9 675.7,175.8 675.7,175.7 675.8,175.5 675.9,175.4 676.0,175.0 676.2,174.8 676.3,174.7 676.4,174.7 676.5,174.7 676.6,174.7 676.8,174.8 676.9,175.0 677.0,175.1 677.0,175.1 677.2,175.2 677.6,175.3 678.2,175.3 678.8,175.7 679.4,176.1 680.0,176.5 680.6,176.6 681.2,176.7 681.8,177.1 682.4,177.4 683.0,177.7 683.6,178.0 684.2,178.5 684.8,178.9 685.4,179.3 686.0,179.7 686.6,179.9 687.2,180.1 687.8,180.4 688.4,180.7 689.0,181.0 689.6,181.2 690.2,181.4 690.8,181.9 691.4,182.4 692.0,182.6 692.6,182.9 693.2,183.1 693.9,183.3 694.5,183.6 695.1,183.9 695.7,184.3 696.3,184.7 696.9,185.1 697.5,185.6 698.1,186.0 698.7,186.3 699.3,186.6 699.9,186.7 700.5,186.9 701.1,187.3 701.7,187.7 702.3,188.2 702.9,188.7 703.5,189.0 704.1,189.1 704.7,189.4 705.3,189.9 705.9,190.3 706.5,190.5 707.1,190.7 707.7,191.0 708.3,191.3 708.9,191.3 709.5,191.7 710.1,192.4 710.7,193.2 711.3,194.1 711.9,195.8 712.5,197.5 713.1,199.3 713.7,201.0 714.3,202.8 714.8,204.3" fill="none" stroke="#f03030" stroke-width="1.0" stroke-linejoin="round" />
<line x1="699.60" y1="32.60" x2="707.50" y2="32.60" stroke="#f05050" stroke-width="1.0" />
<line x1="699.60" y1="42.10" x2="707.50" y2="42.10" stroke="#4040f0" stroke-width="1.0" />
<text transform="translate(711.81,34.19) scale(1.0000,1)" font-size="5.536" font-weight="normal" fill="#333" stroke="#333" stroke-width="0.080">DHP (a)</text>
<text transform="translate(711.81,43.69) scale(1.0000,1)" font-size="5.536" font-weight="normal" fill="#333" stroke="#333" stroke-width="0.080">DHP (b)</text>
<text transform="translate(662.52,57.22) scale(1.0000,1)" font-size="8.770" font-weight="bold" fill="#000" stroke="#000" stroke-width="0.150">[<tspan font-size="58%" dy="-0.603em" dx="0.05em">18</tspan><tspan dy="0.350em" dx="0.03em">F]6</tspan></text>
<text transform="translate(668.54,66.87) scale(1.0000,1)" font-size="8.136" font-weight="bold" fill="#000" stroke="#000" stroke-width="0.150">(b)</text>
<text transform="translate(658.74,131.31) scale(1.0000,1)" font-size="8.566" font-weight="bold" fill="#000" stroke="#000" stroke-width="0.150">[<tspan font-size="58%" dy="-0.603em" dx="0.05em">18</tspan><tspan dy="0.350em" dx="0.03em">F]6</tspan></text>
<text transform="translate(664.33,141.38) scale(1.0000,1)" font-size="8.393" font-weight="bold" fill="#000" stroke="#000" stroke-width="0.150">(a)</text>
<line x1="492.70" y1="177.20" x2="565.60" y2="100.94" stroke="#4a80e0" stroke-width="1.1" stroke-dasharray="3.2,2.4"/>
<polygon points="568.50,97.90 566.64,103.03 563.45,99.99" fill="#4a80e0"/>
<line x1="492.70" y1="193.50" x2="562.09" y2="152.05" stroke="#f03030" stroke-width="1.1" stroke-dasharray="3.2,2.4"/>
<polygon points="565.70,149.90 562.54,154.35 560.28,150.58" fill="#f03030"/>
<text transform="translate(115.88,261.99) scale(1.0000,1)" font-size="10.995" font-weight="bold" fill="#000" stroke="#000" stroke-width="0.150">Radio-HPLC</text>
<line x1="61.30" y1="276.60" x2="61.30" y2="394.10" stroke="#000" stroke-width="1.3" />
<line x1="56.50" y1="393.50" x2="235.30" y2="393.50" stroke="#000" stroke-width="1.3" />
<line x1="56.30" y1="361.40" x2="61.30" y2="361.40" stroke="#000" stroke-width="1.2" />
<line x1="56.30" y1="329.30" x2="61.30" y2="329.30" stroke="#000" stroke-width="1.2" />
<line x1="56.30" y1="297.20" x2="61.30" y2="297.20" stroke="#000" stroke-width="1.2" />
<text transform="translate(49.59,396.60) scale(0.9400,1)" font-size="8.989" font-weight="bold" fill="#000" stroke="#000" stroke-width="0.080">0</text>
<text transform="translate(26.10,364.50) scale(0.9400,1)" font-size="8.989" font-weight="bold" fill="#000" stroke="#000" stroke-width="0.080">500000</text>
<text transform="translate(21.37,332.40) scale(0.9400,1)" font-size="8.989" font-weight="bold" fill="#000" stroke="#000" stroke-width="0.080">1000000</text>
<text transform="translate(21.37,300.30) scale(0.9400,1)" font-size="8.989" font-weight="bold" fill="#000" stroke="#000" stroke-width="0.080">1500000</text>
<line x1="73.40" y1="393.50" x2="73.40" y2="398.50" stroke="#000" stroke-width="1.2" />
<line x1="98.20" y1="393.50" x2="98.20" y2="398.50" stroke="#000" stroke-width="1.2" />
<line x1="123.00" y1="393.50" x2="123.00" y2="398.50" stroke="#000" stroke-width="1.2" />
<line x1="147.80" y1="393.50" x2="147.80" y2="398.50" stroke="#000" stroke-width="1.2" />
<line x1="172.60" y1="393.50" x2="172.60" y2="398.50" stroke="#000" stroke-width="1.2" />
<line x1="197.40" y1="393.50" x2="197.40" y2="398.50" stroke="#000" stroke-width="1.2" />
<line x1="222.20" y1="393.50" x2="222.20" y2="398.50" stroke="#000" stroke-width="1.2" />
<text transform="translate(68.90,408.13) scale(0.9400,1)" font-size="8.191" font-weight="bold" fill="#000" stroke="#000" stroke-width="0.080">14</text>
<text transform="translate(93.85,408.13) scale(0.9400,1)" font-size="8.191" font-weight="bold" fill="#000" stroke="#000" stroke-width="0.080">16</text>
<text transform="translate(118.61,408.13) scale(0.9400,1)" font-size="8.191" font-weight="bold" fill="#000" stroke="#000" stroke-width="0.080">18</text>
<text transform="translate(143.56,408.13) scale(0.9400,1)" font-size="8.191" font-weight="bold" fill="#000" stroke="#000" stroke-width="0.080">20</text>
<text transform="translate(168.37,408.17) scale(0.9400,1)" font-size="8.191" font-weight="bold" fill="#000" stroke="#000" stroke-width="0.080">22</text>
<text transform="translate(193.01,408.17) scale(0.9400,1)" font-size="8.191" font-weight="bold" fill="#000" stroke="#000" stroke-width="0.080">24</text>
<text transform="translate(217.97,408.13) scale(0.9400,1)" font-size="8.191" font-weight="bold" fill="#000" stroke="#000" stroke-width="0.080">26</text>
<text transform="translate(124.76,422.25) scale(1.0000,1)" font-size="9.438" font-weight="bold" fill="#000" stroke="#000" stroke-width="0.150">Time (min)</text>
<text transform="translate(15.31,366.72) rotate(-90) scale(1.0000,1)" font-size="9.584" font-weight="bold" fill="#000" stroke="#000" stroke-width="0.150">Intensity (mV)</text>
<polyline points="61.0,370.4 61.6,370.3 62.2,370.1 62.8,370.4 63.4,370.8 64.0,370.9 64.6,370.9 65.2,370.8 65.8,370.7 66.4,370.7 67.0,370.8 67.6,370.9 68.2,371.1 68.8,371.4 69.4,371.2 70.0,371.0 70.6,371.1 71.2,371.3 71.8,371.4 72.4,371.4 73.0,371.4 73.6,371.5 74.2,371.6 74.8,371.5 75.4,371.5 76.0,371.6 76.6,371.8 77.2,371.8 77.8,371.8 78.4,371.6 79.0,371.5 79.6,371.5 80.2,371.6 80.8,371.6 81.4,371.6 82.0,371.6 82.6,371.5 83.2,371.5 83.8,371.6 84.4,371.7 85.0,371.7 85.6,371.7 86.2,371.9 86.8,372.3 87.4,372.2 88.0,372.0 88.6,371.9 89.2,371.7 89.8,371.7 90.4,371.9 91.0,372.0 91.6,372.0 92.2,371.9 92.8,371.9 93.4,371.8 94.0,371.8 94.6,371.9 95.2,371.8 95.8,371.7 96.4,371.7 97.0,371.7 97.6,371.8 98.2,371.9 98.8,371.9 99.4,371.8 100.0,371.6 100.6,371.8 101.2,372.0 101.8,372.0 102.4,372.1 103.0,372.0 103.6,371.9 104.2,371.8 104.8,371.8 105.4,371.8 106.0,371.9 106.6,372.0 107.2,372.1 107.8,372.2 108.4,372.2 109.0,372.1 109.6,372.0 110.2,372.0 110.8,371.9 111.4,371.9 112.0,371.8 112.6,371.6 113.2,371.6 113.8,371.9 114.4,372.1 115.0,372.1 115.6,372.1 116.2,372.3 116.8,372.6 117.4,372.3 118.0,371.9 118.6,371.8 119.2,371.8 119.8,371.9 120.4,372.0 121.0,372.1 121.6,372.2 122.2,372.3 122.8,372.5 123.4,372.8 124.0,372.4 124.6,372.0 125.2,372.1 125.8,372.3 126.4,372.2 127.0,371.9 127.6,371.8 128.2,371.9 128.8,371.9 129.4,371.9 130.0,371.9 130.6,372.0 131.2,372.2 131.8,372.1 132.4,371.9 133.0,372.1 133.6,372.4 134.2,372.3 134.8,372.0 135.4,371.9 136.0,372.1 136.3,372.2 136.5,372.2 136.6,372.2 136.6,372.2 136.8,372.1 137.0,371.9 137.2,371.2 137.2,371.2 137.4,370.0 137.6,368.0 137.8,365.1 137.8,364.3 137.9,361.6 138.1,358.1 138.3,355.4 138.4,354.7 138.5,354.4 138.7,355.4 138.9,358.0 139.0,360.3 139.1,361.4 139.2,365.0 139.4,367.9 139.6,369.8 139.6,370.0 139.8,371.3 140.0,371.9 140.2,372.3 140.2,372.3 140.4,372.4 140.5,372.4 140.8,372.4 141.4,372.2 142.0,372.3 142.6,372.4 143.2,372.5 143.8,372.6 144.4,372.6 145.0,372.5 145.6,372.4 146.2,372.4 146.8,372.4 147.4,372.3 148.0,372.3 148.6,372.2 149.2,372.2 149.8,372.1 150.4,372.1 151.0,372.1 151.6,372.2 152.2,372.2 152.8,372.1 153.4,372.1 154.0,372.6 154.6,373.1 155.2,372.8 155.8,372.5 156.4,372.4 157.0,372.3 157.6,372.4 158.2,372.7 158.8,372.8 159.4,372.7 160.0,372.6 160.6,372.5 161.2,372.5 161.8,372.8 162.4,373.0 163.0,372.9 163.6,372.8 164.2,372.6 164.8,372.5 165.4,372.6 166.0,372.7 166.6,372.6 167.2,372.4 167.8,372.3 168.4,372.2 169.0,372.1 169.6,372.4 170.2,372.7 170.8,372.9 171.4,373.0 172.0,372.9 172.6,372.8 173.2,372.8 173.3,372.9 173.6,372.9 173.8,372.9 173.8,372.9 174.1,372.9 174.3,372.9 174.4,372.9 174.6,372.8 174.8,372.6 175.0,372.3 175.1,372.2 175.3,371.6 175.6,370.8 175.6,370.7 175.8,370.0 176.1,369.4 176.2,369.2 176.3,369.2 176.6,369.3 176.8,369.8 176.8,369.9 177.1,370.6 177.3,371.4 177.4,371.6 177.6,372.0 177.7,372.3 177.8,372.5 177.9,372.6 178.0,372.7 178.1,372.7 178.2,372.8 178.3,372.9 178.4,372.9 178.6,372.9 178.6,372.9 178.7,372.9 178.8,372.8 178.9,372.7 179.0,372.6 179.2,372.5 179.2,372.5 179.3,372.3 179.4,372.1 179.7,371.5 179.8,371.1 179.9,370.7 180.2,370.0 180.4,369.4 180.4,369.4 180.7,369.2 180.9,369.3 181.0,369.5 181.2,369.9 181.4,370.5 181.6,371.1 181.7,371.2 181.9,371.8 182.1,372.2 182.2,372.3 182.4,372.5 182.6,372.7 182.8,372.7 182.9,372.8 183.1,372.8 183.4,372.9 183.4,372.9 183.6,372.9 184.0,373.0 184.6,373.1 185.2,373.0 185.8,372.9 186.4,373.0 187.0,373.0 187.6,373.0 188.2,373.0 188.8,373.1 189.4,373.3 190.0,373.5 190.6,373.7 191.2,373.8 191.8,373.3 192.4,372.9 193.0,373.1 193.6,373.3 193.8,373.3 194.1,373.3 194.2,373.3 194.3,373.3 194.5,373.3 194.8,373.3 194.8,373.3 195.0,373.2 195.3,373.2 195.4,373.1 195.5,373.0 195.8,372.8 196.0,372.7 196.0,372.6 196.3,372.4 196.5,372.3 196.6,372.3 196.8,372.3 197.0,372.3 197.2,372.4 197.3,372.5 197.5,372.7 197.8,372.9 197.8,372.9 198.0,373.0 198.3,373.2 198.4,373.2 198.5,373.3 198.8,373.3 199.0,373.3 199.0,373.3 199.3,373.2 199.5,373.1 199.6,373.1 199.8,373.0 200.2,372.9 200.8,373.1 201.4,373.3 202.0,373.3 202.6,373.3 203.2,373.4 203.8,373.5 204.4,373.5 205.0,373.4 205.6,373.4 206.2,373.3 206.8,373.3 207.4,373.4 208.0,373.4 208.6,373.4 209.2,373.4 209.8,373.5 210.4,373.7 211.0,373.6 211.6,373.5 212.2,373.5 212.8,373.7 213.4,373.8 214.0,373.7 214.6,373.7 215.2,373.7 215.8,373.8 216.4,373.6 217.0,373.5 217.6,373.5 218.2,373.4 218.6,373.4 218.8,373.4 218.9,373.4 219.1,373.5 219.3,373.5 219.4,373.5 219.6,373.5 219.8,373.6 220.0,373.6 220.1,373.6 220.3,373.6 220.6,373.5 220.6,373.5 220.8,373.5 221.1,373.3 221.2,373.3 221.3,373.2 221.6,373.1 221.8,373.1 221.8,373.1 222.1,373.2 222.3,373.2 222.4,373.3 222.6,373.3 222.8,373.4 223.0,373.4 223.1,373.4 223.3,373.4 223.6,373.4 223.6,373.4 223.8,373.5 224.1,373.5 224.2,373.5 224.3,373.5 224.6,373.5 224.8,373.6 225.4,373.6 226.0,373.6 226.6,373.8 227.2,374.0 227.8,374.0 228.4,374.0 229.0,374.0 229.6,374.0 230.2,374.0 230.8,374.0 231.4,374.0 232.0,373.9 232.6,373.8 233.2,373.9 233.8,373.9 234.4,373.9 234.6,374.0" fill="none" stroke="#36c836" stroke-width="1.0" stroke-linejoin="round" />
<polyline points="61.0,378.3 61.6,378.3 62.2,378.4 62.8,378.4 63.4,378.5 64.0,378.6 64.6,378.9 65.2,379.1 65.8,379.1 66.4,379.2 67.0,379.3 67.6,379.5 68.2,379.5 68.8,379.6 69.4,379.6 70.0,379.5 70.6,379.6 71.2,379.7 71.8,379.8 72.4,379.8 73.0,379.9 73.6,379.9 74.2,380.0 74.8,380.2 75.4,380.3 76.0,379.9 76.6,379.6 77.2,379.7 77.8,379.7 78.4,380.0 79.0,380.3 79.6,380.4 80.2,380.3 80.8,380.3 81.4,380.3 82.0,380.2 82.6,380.2 83.2,380.1 83.8,380.0 84.4,380.0 85.0,380.1 85.6,380.2 86.2,380.4 86.8,380.7 87.4,380.4 88.0,379.8 88.6,379.6 89.2,379.8 89.8,380.0 90.4,380.0 91.0,380.1 91.6,380.3 92.2,380.5 92.8,380.4 93.4,380.3 94.0,380.2 94.6,380.1 95.2,380.2 95.8,380.3 96.4,380.3 97.0,380.2 97.6,380.1 98.2,380.2 98.8,380.3 99.4,380.1 100.0,380.0 100.6,380.1 101.2,380.3 101.8,380.2 102.4,380.1 103.0,380.3 103.6,380.6 104.2,380.6 104.8,380.3 105.4,380.1 106.0,380.2 106.6,380.3 107.2,380.5 107.8,380.6 108.4,380.4 109.0,380.2 109.6,380.3 110.2,380.5 110.8,380.5 111.4,380.4 112.0,380.3 112.6,380.3 113.2,380.3 113.8,380.3 114.4,380.3 115.0,380.1 115.6,380.0 116.2,380.1 116.8,380.2 117.4,380.1 118.0,380.0 118.6,380.1 119.0,380.3 119.2,380.3 119.4,380.4 119.7,380.4 119.8,380.5 120.0,380.5 120.4,380.5 120.4,380.5 120.7,380.4 121.0,380.2 121.0,380.2 121.3,379.9 121.6,379.6 121.7,379.5 122.0,379.0 122.2,378.7 122.3,378.5 122.7,378.2 122.8,378.1 123.0,378.1 123.3,378.2 123.4,378.3 123.7,378.7 123.9,379.0 124.0,379.2 124.0,379.2 124.1,379.3 124.3,379.4 124.3,379.4 124.5,379.1 124.6,378.6 124.7,378.2 124.7,377.9 124.9,374.7 125.0,372.7 125.1,368.6 125.2,364.7 125.3,358.6 125.5,344.3 125.6,334.1 125.7,326.9 125.8,320.7 125.9,309.7 126.0,306.6 126.1,296.9 126.3,292.3 126.3,292.2 126.4,292.5 126.6,297.0 126.6,301.4 126.8,309.9 127.0,327.2 127.0,330.0 127.2,344.6 127.4,358.9 127.6,369.0 127.6,369.5 127.8,375.1 128.0,378.4 128.2,379.9 128.2,379.9 128.4,380.5 128.6,380.7 128.8,380.8 128.8,380.8 129.4,380.8 130.0,380.8 130.6,380.9 131.2,380.9 131.8,381.0 132.4,381.1 133.0,381.0 133.6,380.8 134.2,380.8 134.8,380.8 135.4,380.8 136.0,380.6 136.6,380.5 137.2,380.6 137.8,380.7 138.4,380.7 139.0,380.6 139.6,380.8 140.2,381.0 140.8,381.0 141.4,381.0 142.0,381.1 142.6,381.2 143.2,381.2 143.8,381.2 144.4,381.1 145.0,380.9 145.6,380.8 146.2,380.9 146.8,381.1 147.4,381.1 148.0,381.1 148.6,381.1 149.2,381.2 149.8,381.0 150.4,380.8 151.0,380.8 151.6,381.0 152.2,381.0 152.8,380.9 153.4,380.8 154.0,381.0 154.6,381.1 155.2,381.0 155.8,380.9 156.4,381.1 157.0,381.3 157.6,381.4 158.2,381.5 158.8,381.4 159.4,381.1 160.0,381.0 160.6,381.1 161.2,381.3 161.4,381.2 161.6,381.2 161.8,381.2 161.9,381.2 162.1,381.1 162.3,380.9 162.4,380.7 162.5,380.5 162.7,379.8 162.9,378.7 163.0,377.9 163.1,377.1 163.3,375.2 163.5,373.3 163.6,372.6 163.7,371.9 163.9,371.4 164.1,371.9 164.2,372.4 164.3,373.3 164.5,375.2 164.7,377.1 164.8,377.6 165.0,378.7 165.2,379.8 165.4,380.5 165.4,380.6 165.6,380.9 165.8,381.1 166.0,381.1 166.0,381.1 166.2,381.2 166.4,381.2 166.6,381.3 166.6,381.3 166.8,381.3 167.0,381.3 167.2,381.2 167.2,381.2 167.4,380.9 167.6,380.2 167.8,379.3 167.8,378.9 168.1,377.2 168.3,375.1 168.4,373.7 168.5,373.0 168.7,371.5 168.9,370.9 169.0,371.1 169.1,371.5 169.3,373.0 169.5,375.0 169.6,376.0 169.7,377.0 169.9,378.7 170.1,379.9 170.2,380.2 170.3,380.6 170.5,381.0 170.7,381.2 170.8,381.2 170.9,381.2 171.2,381.2 171.4,381.2 171.4,381.2 172.0,381.2 172.6,381.2 173.2,381.3 173.8,381.3 174.4,381.4 175.0,381.5 175.6,381.6 176.2,381.5 176.8,381.4 177.4,381.3 178.0,381.2 178.6,381.4 179.2,381.7 179.8,381.7 180.4,381.6 181.0,381.5 181.4,381.4 181.6,381.4 181.7,381.3 181.9,381.3 182.1,381.2 182.2,381.2 182.4,381.2 182.6,381.1 182.8,381.0 182.9,380.9 183.1,380.6 183.4,380.4 183.4,380.4 183.6,380.1 183.9,379.7 184.0,379.6 184.1,379.5 184.4,379.5 184.6,379.6 184.6,379.6 184.9,379.9 185.1,380.3 185.2,380.5 185.4,380.7 185.6,381.1 185.8,381.2 185.9,381.3 186.1,381.5 186.4,381.6 186.4,381.6 186.6,381.7 186.9,381.8 187.0,381.8 187.1,381.8 187.4,381.8 187.6,381.8 188.2,381.7 188.8,381.7 189.4,381.8 190.0,381.8 190.6,381.7 191.2,381.6 191.8,381.5 192.4,381.5 193.0,381.5 193.6,381.6 194.2,381.5 194.8,381.4 195.4,381.6 196.0,381.9 196.6,382.0 197.2,382.0 197.8,381.9 198.4,381.6 199.0,381.4 199.6,381.5 200.2,381.5 200.8,381.8 201.4,382.0 202.0,381.9 202.6,381.8 203.2,381.9 203.8,382.0 204.4,382.0 205.0,381.9 205.6,381.8 205.6,381.8 205.8,381.8 206.1,381.8 206.2,381.8 206.3,381.8 206.6,381.7 206.8,381.7 206.8,381.7 207.1,381.5 207.3,381.3 207.4,381.2 207.6,381.0 207.8,380.7 208.0,380.5 208.1,380.4 208.3,380.3 208.6,380.3 208.6,380.3 208.8,380.5 209.1,380.8 209.2,381.0 209.3,381.2 209.6,381.5 209.8,381.8 210.0,382.0 210.3,382.1 210.4,382.2 210.5,382.2 210.8,382.1 211.0,382.1 211.0,382.0 211.3,382.0 211.5,381.9 211.6,381.9 212.2,381.9 212.8,382.0 213.4,381.9 214.0,381.7 214.6,381.7 215.2,382.0 215.8,382.3 216.4,382.2 217.0,382.2 217.6,382.4 218.2,382.7 218.8,382.4 219.4,381.9 220.0,381.8 220.6,381.7 221.2,381.8 221.8,381.9 222.4,382.0 223.0,382.1 223.6,382.2 224.2,382.4 224.8,382.6 225.4,382.6 226.0,382.5 226.6,382.4 227.2,382.3 227.8,382.1 228.4,381.8 229.0,381.8 229.6,381.9 230.2,382.0 230.8,382.2 231.4,382.4 232.0,382.2 232.6,382.1 233.2,382.1 233.8,382.1 234.4,382.1 234.6,382.1" fill="none" stroke="#3a3af0" stroke-width="1.0" stroke-linejoin="round" />
<polyline points="61.0,387.2 61.6,387.1 62.2,387.0 62.8,387.0 63.4,387.1 64.0,387.2 64.6,387.3 65.2,387.2 65.8,387.0 66.4,387.0 67.0,387.2 67.6,387.4 68.2,387.5 68.8,387.6 69.4,387.5 70.0,387.4 70.6,387.4 71.2,387.5 71.8,387.5 72.4,387.7 73.0,387.6 73.6,387.5 74.2,387.4 74.8,387.5 75.4,387.5 76.0,387.6 76.6,387.7 77.2,387.7 77.8,387.6 78.4,387.6 79.0,387.6 79.6,387.7 80.2,387.8 80.8,387.8 81.4,387.7 82.0,387.7 82.6,387.8 83.2,387.9 83.8,387.9 84.4,387.9 85.0,387.8 85.6,387.7 86.2,387.8 86.8,388.0 87.4,388.0 88.0,388.0 88.6,387.9 89.2,388.0 89.8,388.0 90.4,387.9 91.0,387.8 91.6,387.9 92.2,388.0 92.8,387.8 93.4,387.6 94.0,387.6 94.6,387.6 95.2,387.7 95.8,387.9 96.4,388.0 97.0,387.9 97.6,387.9 98.2,388.0 98.8,388.0 99.4,388.0 100.0,388.0 100.6,387.9 101.2,387.8 101.8,387.8 102.4,387.7 103.0,387.7 103.6,387.6 104.2,387.6 104.8,387.6 105.4,387.7 106.0,388.0 106.6,388.2 107.2,388.2 107.8,388.1 108.4,388.1 109.0,388.1 109.6,388.1 110.2,388.1 110.8,388.1 111.2,388.0 111.4,388.0 111.4,388.0 111.6,388.0 111.8,387.8 112.0,387.5 112.0,387.4 112.3,386.7 112.5,385.3 112.6,383.8 112.7,383.0 112.9,379.8 113.1,375.9 113.2,373.6 113.3,372.0 113.5,369.2 113.7,368.2 113.8,368.4 113.9,369.3 114.1,372.2 114.3,376.1 114.4,377.7 114.5,380.0 114.7,383.2 114.9,385.5 115.0,386.0 115.1,386.9 115.4,387.6 115.6,388.0 115.6,388.0 115.8,388.0 116.0,388.0 116.2,387.9 116.2,387.9 116.8,387.7 117.4,387.8 118.0,387.9 118.6,387.9 119.2,387.8 119.8,387.8 120.4,388.1 121.0,388.2 121.6,388.0 122.2,387.9 122.8,387.9 123.4,387.8 124.0,387.9 124.6,387.9 125.2,388.1 125.8,388.3 126.4,388.2 127.0,388.1 127.6,388.1 128.2,388.3 128.8,388.4 129.4,388.4 130.0,388.4 130.6,388.3 131.2,388.2 131.8,388.2 132.4,388.1 133.0,388.2 133.6,388.3 134.2,388.3 134.8,388.3 135.4,388.2 136.0,388.2 136.6,388.2 137.2,388.3 137.8,388.4 138.4,388.3 139.0,388.2 139.6,388.2 140.2,388.2 140.8,388.2 141.4,388.2 142.0,388.2 142.6,388.2 143.2,388.3 143.8,388.4 144.4,388.5 145.0,388.4 145.6,388.4 146.2,388.4 146.8,388.4 147.4,388.3 148.0,388.2 148.6,388.4 149.2,388.6 149.8,388.6 150.4,388.4 151.0,388.4 151.6,388.6 152.2,388.7 152.8,388.5 153.4,388.3 154.0,388.4 154.6,388.5 155.2,388.5 155.8,388.5 156.4,388.4 157.0,388.3 157.6,388.2 158.2,388.2 158.8,388.3 159.4,388.5 160.0,388.7 160.6,388.6 161.2,388.5 161.8,388.7 162.4,388.9 163.0,388.7 163.6,388.6 164.2,388.6 164.8,388.7 165.4,388.6 166.0,388.5 166.6,388.5 167.2,388.6 167.8,388.6 168.4,388.6 169.0,388.6 169.6,388.7 170.2,388.8 170.8,388.8 171.4,388.7 172.0,388.8 172.6,388.8 173.2,388.8 173.8,388.7 174.4,388.7 175.0,388.9 175.6,388.9 176.2,388.8 176.8,388.6 177.4,388.6 178.0,388.5 178.6,388.4 179.2,388.2 179.8,388.3 180.4,388.4 181.0,388.5 181.6,388.5 182.2,388.5 182.8,388.6 183.4,388.6 184.0,388.5 184.6,388.5 185.2,388.6 185.8,388.8 186.4,388.8 187.0,388.7 187.6,388.9 188.2,389.1 188.8,389.1 189.4,389.0 190.0,388.9 190.6,388.7 191.2,388.7 191.8,389.0 192.4,389.2 193.0,389.0 193.6,388.8 193.8,388.8 194.1,388.8 194.2,388.8 194.3,388.9 194.5,388.9 194.8,388.9 194.8,388.9 195.0,388.9 195.3,388.8 195.4,388.8 195.5,388.8 195.8,388.7 196.0,388.6 196.0,388.6 196.3,388.4 196.5,388.3 196.6,388.3 196.8,388.3 197.0,388.3 197.2,388.3 197.3,388.4 197.5,388.5 197.8,388.6 197.8,388.6 198.0,388.7 198.3,388.8 198.4,388.8 198.5,388.9 198.8,388.9 199.0,389.0 199.0,389.0 199.3,389.0 199.5,389.0 199.6,389.1 199.8,389.1 200.2,389.1 200.8,389.1 201.4,389.0 202.0,389.1 202.6,389.3 203.2,389.1 203.8,388.8 204.4,388.8 205.0,388.9 205.6,389.0 206.2,388.9 206.8,388.9 207.4,389.1 208.0,389.2 208.6,388.9 209.2,388.7 209.8,388.8 210.4,388.8 211.0,388.9 211.6,389.0 212.2,389.0 212.8,389.0 213.4,389.0 214.0,389.0 214.6,389.1 215.2,389.2 215.8,389.2 216.4,389.2 217.0,389.2 217.6,389.2 218.2,389.2 218.8,389.1 219.4,389.1 220.0,389.0 220.6,388.9 221.2,388.9 221.8,388.9 222.4,389.0 223.0,389.1 223.6,389.1 224.2,389.1 224.8,389.1 225.4,389.2 226.0,389.3 226.6,389.3 227.2,389.3 227.8,389.4 228.4,389.5 229.0,389.6 229.6,389.5 230.2,389.5 230.8,389.5 231.4,389.5 232.0,389.4 232.6,389.3 233.2,389.3 233.8,389.3 234.4,389.3 234.6,389.3" fill="none" stroke="#f03c3c" stroke-width="1.0" stroke-linejoin="round" />
<line x1="195.30" y1="261.20" x2="208.10" y2="261.20" stroke="#f04848" stroke-width="1.0" />
<text transform="translate(214.67,264.18) scale(1.0000,1)" font-size="9.528" font-weight="normal" fill="#111" stroke="#111" stroke-width="0.080">60 °C, 10 min (25% ACN)</text>
<line x1="195.30" y1="276.80" x2="208.10" y2="276.80" stroke="#4848f0" stroke-width="1.0" />
<text transform="translate(214.96,279.77) scale(1.0000,1)" font-size="9.503" font-weight="normal" fill="#111" stroke="#111" stroke-width="0.080">40 °C, 20 min (25% ACN)</text>
<line x1="195.30" y1="292.40" x2="208.10" y2="292.40" stroke="#40c840" stroke-width="1.0" />
<text transform="translate(214.67,295.38) scale(1.0000,1)" font-size="9.528" font-weight="normal" fill="#111" stroke="#111" stroke-width="0.080">60 °C, 10 min (75% ACN)</text>
<text transform="translate(114.93,277.71) scale(1.0000,1)" font-size="8.730" font-weight="bold" fill="#000" stroke="#000" stroke-width="0.150">[<tspan font-size="58%" dy="-0.603em" dx="0.05em">18</tspan><tspan dy="0.350em" dx="0.03em">F]6</tspan></text>
<text transform="translate(120.60,288.42) scale(1.0000,1)" font-size="8.929" font-weight="bold" fill="#000" stroke="#000" stroke-width="0.150">(c)</text>
<text transform="translate(106.00,354.00) scale(1.0000,1)" font-size="8.400" font-weight="bold" fill="#000" stroke="#000" stroke-width="0.150">17</text>
<text transform="translate(104.48,364.27) scale(1.0000,1)" font-size="8.400" font-weight="bold" fill="#000" stroke="#000" stroke-width="0.150">min</text>
<text transform="translate(169.44,349.81) scale(1.0000,1)" font-size="8.566" font-weight="bold" fill="#000" stroke="#000" stroke-width="0.150">[<tspan font-size="58%" dy="-0.603em" dx="0.05em">18</tspan><tspan dy="0.350em" dx="0.03em">F]6</tspan></text>
<text transform="translate(169.81,361.05) scale(1.0000,1)" font-size="8.865" font-weight="bold" fill="#000" stroke="#000" stroke-width="0.150">(a, b)</text>
<line x1="235.70" y1="389.50" x2="411.00" y2="379.80" stroke="#f03030" stroke-width="1.1" stroke-dasharray="3.2,2.6"/>
<polygon points="415.0,379.4 410.2,377.3 410.5,381.7" fill="#f03030"/>
<text transform="translate(469.55,243.75) scale(1.0000,1)" font-size="10.000" font-weight="bold" fill="#000" stroke="#000" stroke-width="0.150">Radio-HPLC</text>
<line x1="419.40" y1="286.90" x2="419.40" y2="394.20" stroke="#000" stroke-width="1.2" />
<line x1="415.20" y1="393.60" x2="579.30" y2="393.60" stroke="#000" stroke-width="1.2" />
<line x1="415.20" y1="363.47" x2="419.40" y2="363.47" stroke="#000" stroke-width="1.1" />
<line x1="415.20" y1="333.34" x2="419.40" y2="333.34" stroke="#000" stroke-width="1.1" />
<line x1="415.20" y1="303.21" x2="419.40" y2="303.21" stroke="#000" stroke-width="1.1" />
<text transform="translate(409.46,396.51) scale(0.9400,1)" font-size="8.426" font-weight="bold" fill="#000" stroke="#000" stroke-width="0.080">0</text>
<text transform="translate(387.44,366.38) scale(0.9400,1)" font-size="8.426" font-weight="bold" fill="#000" stroke="#000" stroke-width="0.080">200000</text>
<text transform="translate(387.44,336.25) scale(0.9400,1)" font-size="8.426" font-weight="bold" fill="#000" stroke="#000" stroke-width="0.080">400000</text>
<text transform="translate(387.44,306.12) scale(0.9400,1)" font-size="8.426" font-weight="bold" fill="#000" stroke="#000" stroke-width="0.080">600000</text>
<line x1="431.10" y1="393.60" x2="431.10" y2="398.10" stroke="#000" stroke-width="1.1" />
<line x1="453.76" y1="393.60" x2="453.76" y2="398.10" stroke="#000" stroke-width="1.1" />
<line x1="476.42" y1="393.60" x2="476.42" y2="398.10" stroke="#000" stroke-width="1.1" />
<line x1="499.08" y1="393.60" x2="499.08" y2="398.10" stroke="#000" stroke-width="1.1" />
<line x1="521.74" y1="393.60" x2="521.74" y2="398.10" stroke="#000" stroke-width="1.1" />
<line x1="544.40" y1="393.60" x2="544.40" y2="398.10" stroke="#000" stroke-width="1.1" />
<line x1="567.06" y1="393.60" x2="567.06" y2="398.10" stroke="#000" stroke-width="1.1" />
<text transform="translate(426.78,407.31) scale(0.9400,1)" font-size="7.851" font-weight="bold" fill="#000" stroke="#000" stroke-width="0.080">14</text>
<text transform="translate(449.59,407.31) scale(0.9400,1)" font-size="7.851" font-weight="bold" fill="#000" stroke="#000" stroke-width="0.080">16</text>
<text transform="translate(472.21,407.31) scale(0.9400,1)" font-size="7.851" font-weight="bold" fill="#000" stroke="#000" stroke-width="0.080">18</text>
<text transform="translate(495.02,407.31) scale(0.9400,1)" font-size="7.851" font-weight="bold" fill="#000" stroke="#000" stroke-width="0.080">20</text>
<text transform="translate(517.68,407.35) scale(0.9400,1)" font-size="7.851" font-weight="bold" fill="#000" stroke="#000" stroke-width="0.080">22</text>
<text transform="translate(540.19,407.35) scale(0.9400,1)" font-size="7.851" font-weight="bold" fill="#000" stroke="#000" stroke-width="0.080">24</text>
<text transform="translate(563.00,407.31) scale(0.9400,1)" font-size="7.851" font-weight="bold" fill="#000" stroke="#000" stroke-width="0.080">26</text>
<text transform="translate(477.66,420.09) scale(1.0000,1)" font-size="8.795" font-weight="bold" fill="#000" stroke="#000" stroke-width="0.150">Time (min)</text>
<text transform="translate(382.39,368.95) rotate(-90) scale(1.0000,1)" font-size="8.536" font-weight="bold" fill="#000" stroke="#000" stroke-width="0.150">Intensity (mV)</text>
<polyline points="419.8,335.3 420.4,336.4 421.0,337.5 421.6,338.5 422.2,339.5 422.8,340.4 423.4,341.0 424.0,341.0 424.6,340.9 425.2,341.0 425.8,341.4 426.4,341.7 427.0,341.9 427.6,342.1 428.2,341.9 428.8,341.8 429.4,341.6 430.0,341.4 430.6,341.4 431.2,341.4 431.8,341.5 432.4,341.6 433.0,341.9 433.6,342.4 434.2,342.8 434.8,342.5 435.4,342.1 436.0,342.0 436.6,341.8 437.2,341.7 437.8,341.7 438.4,341.6 439.0,341.4 439.6,341.7 440.2,342.3 440.8,342.6 441.4,342.3 442.0,342.2 442.6,342.6 443.2,343.0 443.8,342.8 444.4,342.5 445.0,342.5 445.6,342.6 446.2,342.4 446.8,342.2 447.4,342.2 448.0,342.3 448.6,342.6 449.2,343.0 449.9,343.3 450.5,343.0 451.1,342.6 451.7,342.6 452.3,342.5 452.9,342.3 453.5,342.1 454.1,342.3 454.7,342.8 455.3,343.1 455.9,343.1 456.5,343.1 457.1,343.1 457.7,343.0 458.3,342.7 458.9,342.4 459.5,342.7 460.1,343.0 460.7,343.0 461.3,342.9 461.9,342.9 462.5,342.8 463.1,342.9 463.7,343.2 464.3,343.3 464.9,342.9 465.5,342.7 466.1,343.3 466.7,343.8 467.3,343.1 467.9,342.4 468.5,342.8 469.1,343.3 469.7,343.5 470.3,343.6 470.9,343.6 471.5,343.6 472.1,343.6 472.7,343.8 473.3,343.8 473.9,343.8 474.5,343.8 475.1,343.8 475.7,343.8 476.3,343.8 476.9,344.0 477.5,343.9 478.1,343.8 478.7,343.7 479.3,343.6 479.9,343.7 480.5,343.9 481.1,344.1 481.7,344.0 482.3,343.9 482.9,344.2 483.5,344.5 484.1,344.4 484.7,344.2 485.3,344.3 485.9,344.4 486.5,344.6 487.1,344.9 487.8,344.9 488.4,344.8 488.5,344.7 488.7,344.6 488.9,344.4 489.0,344.4 489.1,344.2 489.3,343.4 489.5,341.9 489.6,341.0 489.7,338.8 489.9,333.9 490.1,326.9 490.2,322.3 490.2,318.4 490.4,309.9 490.6,303.7 490.8,301.5 490.8,301.3 491.0,303.8 491.2,310.1 491.4,317.9 491.4,318.7 491.6,327.2 491.8,334.3 491.9,339.2 492.0,339.6 492.1,342.3 492.3,343.8 492.5,344.6 492.6,344.7 492.7,344.9 492.9,345.0 493.1,345.0 493.2,345.0 493.8,344.9 494.4,345.1 495.0,345.5 495.6,345.7 496.2,345.6 496.8,345.5 497.4,345.3 498.0,345.1 498.6,345.2 499.2,345.4 499.8,345.3 500.4,345.1 501.0,344.9 501.6,344.5 502.2,344.8 502.8,345.5 503.4,345.9 504.0,345.6 504.6,345.4 505.2,345.5 505.8,345.7 506.4,345.4 507.0,345.0 507.6,345.1 508.2,345.3 508.8,345.6 509.4,346.0 510.0,346.0 510.6,345.5 511.2,345.3 511.8,345.5 512.4,345.7 513.0,345.8 513.6,345.9 514.2,345.8 514.8,345.8 515.4,345.7 516.0,345.7 516.6,345.8 517.2,346.1 517.8,346.2 518.4,346.1 519.0,345.9 519.6,345.6 520.2,345.3 520.8,345.9 521.4,346.4 522.0,346.3 522.5,346.2 522.6,346.2 522.7,346.2 522.9,346.1 523.1,345.9 523.2,345.7 523.3,345.7 523.5,345.2 523.7,344.4 523.8,343.2 523.9,343.1 524.0,341.4 524.2,339.5 524.4,337.6 524.4,337.4 524.6,336.3 524.8,335.8 525.0,336.5 525.0,336.9 525.2,338.1 525.4,340.2 525.6,342.2 525.6,343.0 525.7,343.8 525.9,344.9 526.1,345.6 526.3,345.8 526.3,345.9 526.5,346.0 526.7,346.1 526.9,346.1 526.9,346.1 527.1,346.0 527.3,346.0 527.4,346.0 527.5,345.9 527.6,345.9 527.8,345.7 528.0,345.3 528.1,345.2 528.2,344.7 528.4,343.7 528.6,342.2 528.7,341.4 528.8,340.3 529.0,338.5 529.1,337.2 529.3,336.8 529.3,336.7 529.5,337.2 529.7,338.6 529.9,340.1 529.9,340.4 530.1,342.3 530.3,343.9 530.5,344.9 530.5,344.9 530.7,345.6 530.8,346.0 531.0,346.2 531.1,346.3 531.2,346.4 531.4,346.4 531.6,346.5 531.7,346.5 532.3,346.5 532.9,346.3 533.5,346.2 534.1,346.1 534.7,346.1 535.3,346.2 535.9,346.2 536.5,346.2 537.1,346.1 537.7,346.1 538.3,346.1 538.9,346.1 539.5,346.0 540.1,346.2 540.7,346.6 541.1,346.8 541.3,346.7 541.3,346.7 541.6,346.6 541.8,346.5 541.9,346.4 542.0,346.4 542.2,346.2 542.5,345.9 542.5,345.9 542.7,345.6 542.9,345.1 543.1,344.7 543.2,344.5 543.4,344.0 543.6,343.6 543.7,343.5 543.8,343.6 544.1,343.9 544.3,344.3 544.3,344.4 544.5,344.9 544.7,345.5 544.9,345.9 545.0,346.0 545.2,346.2 545.4,346.4 545.5,346.5 545.6,346.5 545.9,346.6 546.1,346.6 546.1,346.6 546.3,346.6 546.6,346.6 546.7,346.6 547.3,346.5 547.9,346.6 548.5,346.8 549.1,346.7 549.7,346.5 550.3,346.3 550.9,346.5 551.5,346.6 552.1,346.6 552.7,346.7 553.3,346.5 553.9,346.3 554.5,346.2 555.1,346.2 555.7,346.5 556.3,347.1 556.9,347.3 557.5,347.1 558.1,346.9 558.7,346.9 559.3,346.9 559.9,347.2 560.5,347.4 561.1,347.0 561.7,346.6 562.3,346.3 562.9,346.0 563.6,346.1 563.8,346.2 564.0,346.3 564.2,346.4 564.2,346.4 564.5,346.5 564.7,346.4 564.8,346.4 564.9,346.3 565.1,346.2 565.4,346.0 565.4,345.9 565.6,345.6 565.8,345.3 566.0,345.2 566.0,345.2 566.3,345.2 566.5,345.4 566.6,345.5 566.7,345.7 566.9,346.2 567.2,346.7 567.2,346.7 567.4,346.9 567.6,347.1 567.8,347.2 567.9,347.2 568.1,347.2 568.3,347.1 568.4,347.1 568.5,347.2 568.8,347.3 569.0,347.4 569.0,347.4 569.2,347.4 569.6,347.6 570.2,347.2 570.8,346.8 571.4,346.8 572.0,347.0 572.6,347.1 573.2,347.2 573.8,347.1 574.4,347.0 575.0,346.9 575.6,346.9 576.2,346.8 576.8,346.6 577.4,346.5 578.0,346.5 578.4,346.5" fill="none" stroke="#36c836" stroke-width="1.0" stroke-linejoin="round" />
<polyline points="419.8,360.1 420.4,359.3 421.0,358.5 421.6,358.5 422.2,358.7 422.8,358.9 423.4,359.3 424.0,359.6 424.6,359.5 425.2,359.5 425.8,359.9 426.4,360.2 427.0,360.3 427.6,360.4 428.2,360.3 428.8,360.2 429.4,360.8 430.0,361.5 430.6,361.5 431.2,361.1 431.8,360.9 432.4,360.8 433.0,360.9 433.6,361.5 434.2,362.0 434.8,361.4 435.4,360.8 436.0,361.4 436.6,361.9 437.2,362.1 437.8,362.2 438.4,361.9 439.0,361.6 439.6,361.6 440.2,361.8 440.8,362.2 441.4,362.7 442.0,363.1 442.6,362.8 443.2,362.6 443.8,362.3 444.4,362.0 445.0,362.3 445.6,362.6 446.2,362.8 446.8,362.8 447.4,362.8 448.0,362.7 448.6,362.7 449.2,362.7 449.9,362.8 450.5,363.0 451.1,363.3 451.7,363.4 452.3,363.5 452.9,363.3 453.5,363.0 454.1,362.8 454.7,362.7 455.3,363.1 455.9,364.0 456.5,364.5 457.1,363.8 457.7,363.2 458.3,363.1 458.9,363.0 459.5,363.5 460.1,364.1 460.7,363.7 461.3,363.2 461.9,363.5 462.5,364.3 463.1,364.4 463.7,363.9 464.3,363.5 464.9,363.4 465.5,363.3 466.1,363.3 466.7,363.4 467.3,364.5 467.9,365.6 468.5,365.2 469.1,364.6 469.7,364.6 470.3,364.8 470.9,364.8 471.5,364.5 472.1,364.2 472.7,364.0 472.8,363.9 473.1,363.8 473.3,363.8 473.4,363.8 473.7,363.9 473.9,364.0 474.0,364.0 474.3,363.9 474.5,363.8 474.6,363.6 474.9,362.8 475.1,362.2 475.2,361.9 475.5,360.7 475.7,359.9 475.8,359.5 476.1,359.2 476.3,359.2 476.4,359.3 476.7,360.0 476.9,360.7 477.0,361.2 477.2,361.8 477.3,362.1 477.4,362.2 477.5,362.3 477.6,362.2 477.6,362.1 477.8,361.1 477.9,358.6 478.0,357.6 478.1,351.4 478.2,349.5 478.2,344.4 478.3,334.0 478.5,308.4 478.7,288.1 478.7,288.1 478.8,288.1 478.9,288.1 479.1,288.1 479.1,288.1 479.3,288.1 479.3,288.1 479.4,288.1 479.5,288.1 479.7,288.1 479.7,288.1 479.9,288.1 479.9,288.1 480.0,288.1 480.2,288.1 480.4,308.3 480.5,324.3 480.6,334.0 480.8,349.7 481.0,358.0 481.1,361.2 481.2,361.9 481.4,363.5 481.6,364.0 481.7,364.2 481.7,364.2 482.3,364.2 482.9,364.7 483.5,365.2 484.1,365.3 484.7,365.4 485.3,365.1 485.9,364.7 486.5,364.7 487.1,365.3 487.8,365.5 488.4,365.1 489.0,364.8 489.6,365.1 490.2,365.5 490.8,365.3 491.4,365.2 492.0,364.7 492.6,364.2 493.2,364.4 493.8,365.0 494.4,365.3 495.0,365.2 495.6,365.3 496.2,365.5 496.8,365.6 497.4,365.3 498.0,365.0 498.6,364.8 499.2,364.6 499.8,364.7 500.4,365.0 501.0,365.4 501.6,365.9 502.2,365.9 502.8,365.5 503.4,365.2 504.0,364.9 504.6,364.8 505.2,365.4 505.8,366.1 506.4,365.9 507.0,365.7 507.6,365.8 508.2,366.1 508.8,366.1 509.4,366.0 510.0,366.0 510.6,366.2 511.2,366.3 511.8,366.4 512.2,366.4 512.4,366.4 512.4,366.4 512.5,366.2 512.7,366.0 512.8,365.5 513.0,364.7 513.0,364.4 513.1,363.2 513.3,360.9 513.4,357.6 513.6,353.7 513.6,352.7 513.7,349.9 513.9,347.1 514.0,346.1 514.2,347.2 514.2,347.7 514.3,350.0 514.5,353.9 514.6,357.7 514.8,361.0 514.8,361.5 514.9,363.2 515.1,364.7 515.2,365.6 515.4,366.1 515.4,366.1 515.5,366.3 515.7,366.5 515.8,366.7 516.0,366.8 516.2,367.0 516.3,366.9 516.5,366.8 516.6,366.6 516.6,366.6 516.8,366.1 516.9,365.2 517.1,363.6 517.2,361.2 517.2,360.9 517.4,357.1 517.5,352.6 517.7,348.1 517.8,345.1 517.9,344.8 518.0,343.5 518.2,344.7 518.3,348.1 518.4,351.8 518.5,352.5 518.6,356.9 518.8,360.6 518.9,363.3 519.0,364.7 519.1,364.9 519.2,365.8 519.4,366.2 519.5,366.4 519.6,366.5 519.7,366.5 519.8,366.5 520.2,366.5 520.8,366.2 521.4,366.0 522.0,366.1 522.6,366.2 523.2,366.1 523.8,366.0 524.4,366.2 525.0,366.7 525.6,366.8 526.3,366.7 526.9,366.6 527.5,366.5 528.1,366.5 528.7,366.5 529.3,366.5 529.8,366.5 529.9,366.5 530.0,366.5 530.2,366.5 530.5,366.5 530.5,366.5 530.7,366.5 530.9,366.4 531.1,366.3 531.1,366.2 531.4,365.9 531.6,365.5 531.7,365.3 531.8,364.9 532.1,364.3 532.3,363.8 532.3,363.8 532.5,363.6 532.7,363.7 532.9,363.9 533.0,364.1 533.2,364.6 533.4,365.1 533.5,365.2 533.6,365.4 533.9,365.6 534.1,365.7 534.1,365.7 534.3,365.6 534.5,365.6 534.7,365.8 534.8,365.9 535.0,366.1 535.2,366.3 535.3,366.4 535.9,366.9 536.5,367.2 537.1,367.4 537.7,367.0 538.3,366.5 538.9,366.7 539.5,367.0 540.1,366.8 540.7,366.4 541.3,366.2 541.9,366.2 542.5,366.1 543.1,366.0 543.7,365.9 544.3,366.3 544.9,366.7 545.5,367.2 546.1,367.6 546.7,367.1 547.3,366.3 547.9,366.1 548.5,366.3 549.1,366.4 549.7,366.3 550.3,366.4 550.9,366.7 551.5,367.0 551.9,367.0 552.1,367.1 552.1,367.1 552.3,367.1 552.6,367.1 552.7,367.2 552.8,367.1 553.0,367.0 553.2,366.8 553.3,366.7 553.5,366.4 553.7,366.0 553.9,365.4 553.9,365.4 554.1,365.0 554.4,364.8 554.5,364.8 554.6,364.8 554.8,365.1 555.1,365.7 555.1,365.9 555.3,366.4 555.5,366.8 555.7,367.0 556.0,367.0 556.2,367.0 556.3,366.9 556.4,366.8 556.6,366.6 556.9,366.8 556.9,366.8 557.1,366.9 557.3,367.1 557.5,367.2 558.1,367.5 558.7,367.5 559.3,367.5 559.9,367.3 560.5,367.1 561.1,367.4 561.7,367.7 562.3,367.4 562.9,367.1 563.6,367.2 564.2,367.5 564.8,367.4 565.4,366.7 566.0,366.3 566.6,366.6 567.2,366.8 567.8,367.0 568.4,367.2 569.0,367.3 569.6,367.4 570.2,367.5 570.8,367.5 571.4,367.7 572.0,367.8 572.6,368.1 573.2,368.4 573.8,368.6 574.4,368.3 575.0,368.0 575.6,368.1 576.2,368.2 576.8,368.1 577.4,368.1 578.0,368.0 578.4,367.9" fill="none" stroke="#3a3af0" stroke-width="1.0" stroke-linejoin="round" />
<polyline points="419.8,381.3 420.4,381.2 421.0,381.2 421.6,381.2 422.2,381.2 422.8,381.1 423.4,380.9 424.0,380.7 424.6,380.4 425.2,380.5 425.8,381.0 426.4,381.4 427.0,381.4 427.6,381.3 428.2,381.4 428.8,381.6 429.4,381.6 430.0,381.7 430.6,381.5 431.2,381.3 431.8,381.3 432.4,381.6 433.0,381.8 433.6,381.7 434.2,381.7 434.8,381.8 435.4,381.9 436.0,382.1 436.6,382.2 437.2,382.0 437.8,381.7 438.4,381.7 439.0,382.0 439.6,382.0 440.2,381.7 440.8,381.7 441.4,382.1 442.0,382.5 442.6,382.2 443.2,381.9 443.8,381.7 444.4,381.5 445.0,381.9 445.6,382.3 446.2,382.3 446.8,382.1 447.4,382.0 448.0,381.8 448.6,381.7 449.2,381.9 449.9,382.1 450.5,382.4 451.1,382.6 451.7,382.5 452.3,382.5 452.9,382.4 453.5,382.3 454.1,382.3 454.7,382.5 455.3,382.6 455.9,382.6 456.5,382.5 457.1,382.4 457.7,382.4 458.3,382.7 458.9,382.9 459.5,382.4 460.1,381.9 460.7,382.2 461.3,382.6 461.9,382.7 462.5,382.6 463.1,382.5 463.7,382.5 464.3,382.5 464.9,382.2 465.2,382.1 465.4,382.0 465.5,382.1 465.7,382.1 465.9,381.8 466.1,381.5 466.2,381.1 466.4,379.5 466.7,376.3 466.7,376.0 466.9,370.8 467.2,363.0 467.3,358.1 467.4,353.5 467.7,344.1 467.9,337.2 467.9,337.1 468.1,334.4 468.4,337.0 468.5,339.5 468.6,343.9 468.9,353.2 469.1,361.4 469.1,362.5 469.4,370.2 469.6,375.7 469.7,377.0 469.9,379.1 470.1,380.9 470.3,381.7 470.4,381.8 470.6,382.3 470.8,382.5 470.9,382.6 471.5,383.0 472.1,383.3 472.7,383.3 473.3,383.2 473.9,383.1 474.5,382.9 475.1,382.8 475.7,382.7 476.3,382.7 476.9,382.6 477.5,382.6 478.1,382.5 478.7,382.5 479.3,382.7 479.9,382.8 480.5,382.9 481.1,382.9 481.7,382.9 482.3,382.8 482.9,383.3 483.5,383.7 484.1,383.3 484.7,382.8 485.3,382.9 485.9,383.4 486.5,383.7 487.1,383.8 487.8,383.8 488.4,383.6 489.0,383.4 489.6,383.3 490.2,383.3 490.8,383.5 491.4,383.6 492.0,383.5 492.6,383.3 493.2,383.3 493.8,383.2 494.4,383.2 495.0,383.1 495.6,383.1 496.2,383.1 496.8,383.2 497.4,383.3 498.0,383.5 498.6,383.4 499.2,383.3 499.8,383.1 500.4,383.0 501.0,383.1 501.6,383.3 502.2,383.5 502.8,383.5 503.4,383.6 504.0,383.9 504.6,384.1 505.2,383.7 505.8,383.3 506.4,383.0 507.0,382.7 507.6,382.9 508.2,383.1 508.8,383.3 509.4,383.5 510.0,383.4 510.6,383.2 511.2,383.0 511.8,383.0 512.4,383.0 513.0,383.0 513.6,383.0 514.2,383.4 514.8,383.9 515.4,384.0 516.0,384.0 516.6,383.8 517.2,383.4 517.8,383.3 518.4,383.3 519.0,383.4 519.6,383.4 520.2,383.5 520.8,383.8 521.4,384.2 522.0,383.8 522.6,383.4 523.2,383.2 523.8,383.0 524.4,383.0 525.0,383.1 525.6,383.1 526.3,382.8 526.9,382.8 527.5,383.2 528.1,383.5 528.7,383.6 529.3,383.6 529.9,383.4 530.5,383.1 531.1,383.1 531.7,383.3 532.3,383.7 532.9,384.3 533.5,384.5 534.1,384.4 534.7,384.2 535.3,383.9 535.9,383.7 536.5,383.8 537.1,384.0 537.7,383.6 538.3,383.2 538.9,383.2 539.5,383.2 540.1,383.3 540.7,383.3 541.1,383.4 541.3,383.5 541.3,383.5 541.6,383.6 541.8,383.7 541.9,383.7 542.0,383.8 542.2,383.9 542.5,383.8 542.5,383.8 542.7,383.7 542.9,383.5 543.1,383.3 543.2,383.2 543.4,383.0 543.6,382.8 543.7,382.7 543.8,382.7 544.1,382.7 544.3,382.8 544.3,382.8 544.5,382.9 544.7,383.1 544.9,383.2 545.0,383.3 545.2,383.5 545.4,383.7 545.5,383.7 545.6,383.8 545.9,383.9 546.1,384.0 546.1,384.0 546.3,384.0 546.6,383.9 546.7,383.9 547.3,383.7 547.9,383.7 548.5,383.8 549.1,383.8 549.7,383.7 550.3,383.7 550.9,383.8 551.5,383.9 552.1,384.1 552.7,384.2 553.3,384.6 553.9,385.0 554.5,384.9 555.1,384.6 555.7,384.5 556.3,384.5 556.9,384.4 557.5,384.0 558.1,383.9 558.7,384.3 559.3,384.6 559.9,384.4 560.5,384.3 561.1,384.1 561.7,383.9 562.3,383.9 562.9,383.8 563.6,383.8 564.2,383.7 564.8,383.8 565.4,383.9 566.0,383.9 566.6,383.7 567.2,383.6 567.8,384.0 568.4,384.4 569.0,384.1 569.6,383.8 570.2,384.1 570.8,384.5 571.4,384.6 572.0,384.4 572.6,384.3 573.2,384.1 573.8,384.0 574.4,384.0 575.0,384.0 575.6,384.2 576.2,384.3 576.8,384.4 577.4,384.5 578.0,384.6 578.4,384.7" fill="none" stroke="#f03c3c" stroke-width="1.0" stroke-linejoin="round" />
<line x1="471.00" y1="378.50" x2="489.80" y2="345.80" stroke="#444" stroke-width="0.7" stroke-dasharray="2,1.6"/>
<line x1="507.90" y1="379.50" x2="528.30" y2="347.30" stroke="#444" stroke-width="0.7" stroke-dasharray="2,1.6"/>
<line x1="542.60" y1="273.10" x2="554.00" y2="273.10" stroke="#f04848" stroke-width="1.0" />
<text transform="translate(560.31,275.64) scale(1.0000,1)" font-size="8.808" font-weight="normal" fill="#111" stroke="#111" stroke-width="0.080">60 °C, 10 min (25% ACN)</text>
<line x1="542.60" y1="287.30" x2="554.00" y2="287.30" stroke="#4848f0" stroke-width="1.0" />
<text transform="translate(560.57,289.83) scale(1.0000,1)" font-size="8.784" font-weight="normal" fill="#111" stroke="#111" stroke-width="0.080">40 °C, 20 min (25% ACN)</text>
<line x1="542.60" y1="301.50" x2="554.00" y2="301.50" stroke="#40c840" stroke-width="1.0" />
<text transform="translate(560.31,304.04) scale(1.0000,1)" font-size="8.808" font-weight="normal" fill="#111" stroke="#111" stroke-width="0.080">60 °C, 10 min (75% ACN)</text>
<text transform="translate(479.82,279.32) scale(1.0000,1)" font-size="8.770" font-weight="bold" fill="#000" stroke="#000" stroke-width="0.150">[<tspan font-size="58%" dy="-0.603em" dx="0.05em">18</tspan><tspan dy="0.350em" dx="0.03em">F]6</tspan></text>
<text transform="translate(485.50,289.57) scale(1.0000,1)" font-size="8.929" font-weight="bold" fill="#000" stroke="#000" stroke-width="0.150">(c)</text>
<text transform="translate(462.68,319.95) scale(1.0000,1)" font-size="8.700" font-weight="bold" fill="#000" stroke="#000" stroke-width="0.150">17</text>
<text transform="translate(461.46,330.53) scale(1.0000,1)" font-size="8.700" font-weight="bold" fill="#000" stroke="#000" stroke-width="0.150">min</text>
<text transform="translate(516.72,319.92) scale(1.0000,1)" font-size="8.770" font-weight="bold" fill="#000" stroke="#000" stroke-width="0.150">[<tspan font-size="58%" dy="-0.603em" dx="0.05em">18</tspan><tspan dy="0.350em" dx="0.03em">F]6</tspan></text>
<text transform="translate(517.41,330.14) scale(1.0000,1)" font-size="8.821" font-weight="bold" fill="#000" stroke="#000" stroke-width="0.150">(a, b)</text>
</g></svg></body></html>
